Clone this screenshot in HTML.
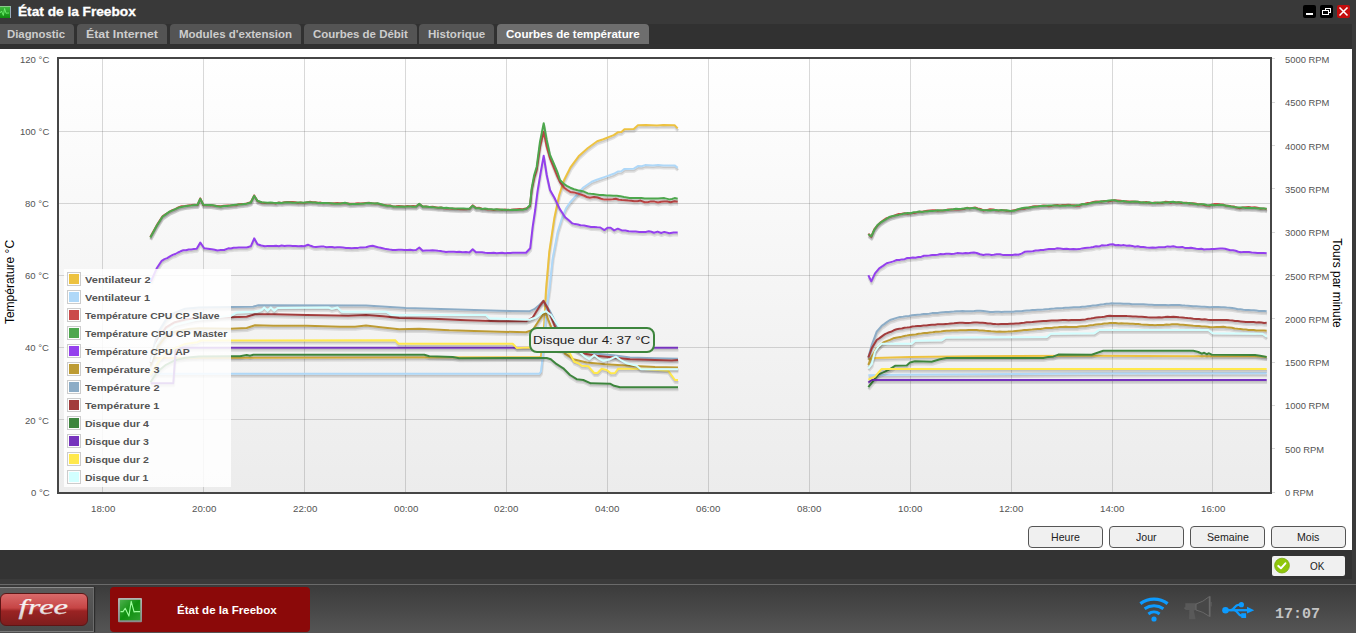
<!DOCTYPE html>
<html lang="fr">
<head>
<meta charset="utf-8">
<title>État de la Freebox</title>
<style>
html,body{margin:0;padding:0;}
body{width:1356px;height:633px;overflow:hidden;position:relative;background:#3a3a3a;font-family:"Liberation Sans",sans-serif;}
div{box-sizing:border-box;}
#titlebar{position:absolute;left:0;top:0;width:1356px;height:24px;background:#393939;}
#ticon{position:absolute;left:0;top:6px;width:11px;height:12px;background:linear-gradient(#3fb83f,#0f8a0f);border-right:1px solid #9ab;border-top:1px solid #8c8;}
.wb{position:absolute;top:5px;width:13px;height:13px;border-radius:2px;background:#000;}
#tabbar{position:absolute;left:0;top:24px;width:1352px;height:25px;background:#313131;}
.tab{position:absolute;top:0;height:20px;background:#545454;border-radius:4px 4px 0 0;color:#c8c8c8;font-weight:bold;font-size:12px;line-height:19px;text-align:center;white-space:nowrap;}
.tab.sel{background:#6e6e6e;color:#fff;}
#content{position:absolute;left:0;top:49px;width:1352px;height:501px;background:#fff;}
#below{position:absolute;left:0;top:550px;width:1352px;height:29px;background:#333;}
#plotbg{position:absolute;left:58px;top:58px;width:1213px;height:435px;background:linear-gradient(#fff,#ececec);}
#chart{position:absolute;left:0;top:0;}
#legend{position:absolute;left:64px;top:269px;width:167px;height:218px;background:rgba(255,255,255,0.85);}
.sw{position:absolute;left:3px;width:14px;height:14px;border:1px solid #ccc;padding:1px;background:transparent;}
.sw i{display:block;width:10px;height:10px;}
#tip{position:absolute;left:529px;top:327px;width:126px;height:26px;border:2px solid #3d853d;border-radius:8px;background:#eee;color:#222;font-size:12.5px;line-height:22px;text-align:center;white-space:nowrap;}
.ft{position:absolute;line-height:1;white-space:nowrap;transform-origin:0 0;display:block;}
#t_title{-webkit-text-stroke:0.3px #fff;}
.ax{position:absolute;font-size:12px;line-height:14px;color:#000;white-space:nowrap;}
.btn{position:absolute;top:526px;width:75px;height:22px;border:1px solid #555;border-radius:4px;background:#f0f0f0;color:#222;font-size:12px;line-height:20px;text-align:center;}
#ok{position:absolute;left:1272px;top:556px;width:73px;height:20px;background:#f0f0f0;border-radius:2px;color:#222;font-size:12px;line-height:20px;}
#taskbar{position:absolute;left:0;top:584px;width:1356px;height:49px;background:linear-gradient(#3b3b3b,#555);border-top:1px solid #6a6a6a;}
#freeframe{position:absolute;left:-2px;top:587px;width:96px;height:45px;background:linear-gradient(#5a5a5a,#4a4a4a);border:1px solid #6c6c6c;border-top-color:#8c8c8c;border-bottom-color:#7a7a7a;box-shadow:1px 0 1px #2c2c2c;}
#free{position:absolute;left:0px;top:593px;width:88px;height:33px;border-radius:6px;background:linear-gradient(#d96a6a 0%,#c64545 45%,#9a2323 55%,#7e1d1d 100%);border:1px solid #5e1515;}
#task{position:absolute;left:110px;top:587px;width:200px;height:45px;background:#8b0909;border-radius:4px;}
#clock{position:absolute;left:1275px;top:606px;font-family:"Liberation Mono",monospace;font-weight:bold;font-size:15px;line-height:18px;color:#c4c4c4;white-space:nowrap;}
</style>
</head>
<body>
<div id="titlebar"></div>
<div id="ticon"></div>
<svg style="position:absolute;left:0;top:6px" width="11" height="12" viewBox="0 0 11 12"><path d="M0 7 L1.5 5 L3.3 9.5 L4.6 2.5 L6 7.2 L9 7" fill="none" stroke="#7dff7d" stroke-width="0.9" opacity="0.8"/></svg>
<div class="wb" style="left:1303px"></div>
<div class="wb" style="left:1320px"></div>
<div class="wb" style="left:1337px;background:#c40d0d"></div>
<svg style="position:absolute;left:1303px;top:5px" width="48" height="13" viewBox="0 0 48 13">
<rect x="3" y="8" width="7" height="2" fill="#fff"/>
<rect x="22.5" y="3.5" width="5" height="4" fill="none" stroke="#fff" stroke-width="1"/>
<rect x="19.5" y="5.5" width="6" height="4" fill="#000" stroke="#fff" stroke-width="1"/>
<path d="M36.5 2.5 L44.5 10.5 M44.5 2.5 L36.5 10.5" stroke="#fff" stroke-width="1.6"/>
</svg>

<div id="tabbar">
<div class="tab" style="left:-3px;width:77px"></div>
<div class="tab" style="left:77px;width:90px"></div>
<div class="tab" style="left:170px;width:131px"></div>
<div class="tab" style="left:304px;width:113px"></div>
<div class="tab" style="left:419px;width:75px"></div>
<div class="tab sel" style="left:497px;width:152px"></div>
</div>

<div id="content"></div>
<div id="below"></div>
<div id="plotbg"></div>

<svg id="chart" width="1356" height="633" viewBox="0 0 1356 633" fill="none" stroke-linejoin="round" stroke-linecap="butt">
<rect x="102" y="59" width="1" height="433" fill="#545454" fill-opacity="0.22"/>
<rect x="203" y="59" width="1" height="433" fill="#545454" fill-opacity="0.22"/>
<rect x="304" y="59" width="1" height="433" fill="#545454" fill-opacity="0.22"/>
<rect x="405" y="59" width="1" height="433" fill="#545454" fill-opacity="0.22"/>
<rect x="506" y="59" width="1" height="433" fill="#545454" fill-opacity="0.22"/>
<rect x="607" y="59" width="1" height="433" fill="#545454" fill-opacity="0.22"/>
<rect x="708" y="59" width="1" height="433" fill="#545454" fill-opacity="0.22"/>
<rect x="809" y="59" width="1" height="433" fill="#545454" fill-opacity="0.22"/>
<rect x="910" y="59" width="1" height="433" fill="#545454" fill-opacity="0.22"/>
<rect x="1011" y="59" width="1" height="433" fill="#545454" fill-opacity="0.22"/>
<rect x="1112" y="59" width="1" height="433" fill="#545454" fill-opacity="0.22"/>
<rect x="1212" y="59" width="1" height="433" fill="#545454" fill-opacity="0.22"/>
<rect x="59" y="419" width="1211" height="1" fill="#545454" fill-opacity="0.22"/>
<rect x="59" y="347" width="1211" height="1" fill="#545454" fill-opacity="0.22"/>
<rect x="59" y="275" width="1211" height="1" fill="#545454" fill-opacity="0.22"/>
<rect x="59" y="203" width="1211" height="1" fill="#545454" fill-opacity="0.22"/>
<rect x="59" y="131" width="1211" height="1" fill="#545454" fill-opacity="0.22"/>
<rect x="1272" y="492" width="3" height="1" fill="#545454" fill-opacity="0.22"/>
<rect x="1272" y="448" width="3" height="1" fill="#545454" fill-opacity="0.22"/>
<rect x="1272" y="405" width="3" height="1" fill="#545454" fill-opacity="0.22"/>
<rect x="1272" y="362" width="3" height="1" fill="#545454" fill-opacity="0.22"/>
<rect x="1272" y="318" width="3" height="1" fill="#545454" fill-opacity="0.22"/>
<rect x="1272" y="275" width="3" height="1" fill="#545454" fill-opacity="0.22"/>
<rect x="1272" y="232" width="3" height="1" fill="#545454" fill-opacity="0.22"/>
<rect x="1272" y="188" width="3" height="1" fill="#545454" fill-opacity="0.22"/>
<rect x="1272" y="145" width="3" height="1" fill="#545454" fill-opacity="0.22"/>
<rect x="1272" y="102" width="3" height="1" fill="#545454" fill-opacity="0.22"/>
<rect x="1272" y="58" width="3" height="1" fill="#545454" fill-opacity="0.22"/>
<rect x="58" y="58" width="1213" height="435" fill="none" stroke="#464646" stroke-width="2" shape-rendering="crispEdges"/>
<g><polyline points="151.2,360.5 539.7,359.7 541.4,359.2 544.7,325.8 546.4,292.5 549.7,254.2 554.7,220.8 559.6,197.5 564.5,182.5 570.7,170.2 579.0,158.8 588.3,150.5 597.6,143.8 603.8,141.8 614.1,137.6 618.2,134.8 621.8,134.5 624.9,131.7 634.2,131.4 638.3,127.8 646.1,127.5 657.4,128.1 663.6,127.6 675.0,127.8 678.1,130.9" stroke="#000" stroke-opacity="0.1" stroke-width="3"/><polyline points="868.7,362.0 875.4,360.5 910.4,359.5 977.1,358.8 1086.4,358.3 1200.4,358.7 1255.4,358.8 1267.1,359.5" stroke="#000" stroke-opacity="0.1" stroke-width="3"/><polyline points="151.1,359.7 539.6,358.9 541.3,358.4 544.6,325.0 546.3,291.7 549.6,253.4 554.6,220.0 559.5,196.7 564.4,181.7 570.6,169.4 578.9,158.0 588.2,149.7 597.5,143.0 603.7,141.0 614.0,136.8 618.1,134.0 621.7,133.7 624.8,130.9 634.1,130.6 638.2,127.0 646.0,126.7 657.3,127.3 663.5,126.8 674.9,127.0 678.0,130.1" stroke="#000" stroke-opacity="0.1" stroke-width="1.5"/><polyline points="868.6,361.2 875.3,359.7 910.3,358.7 977.0,358.0 1086.3,357.5 1200.3,357.9 1255.3,358.0 1267.0,358.7" stroke="#000" stroke-opacity="0.1" stroke-width="1.5"/><polyline points="150.8,358.0 539.3,357.2 541.0,356.7 544.3,323.3 546.0,290.0 549.3,251.7 554.3,218.3 559.2,195.0 564.1,180.0 570.3,167.7 578.6,156.3 587.9,148.0 597.2,141.3 603.4,139.3 613.7,135.1 617.8,132.3 621.4,132.0 624.5,129.2 633.8,128.9 637.9,125.3 645.7,125.0 657.0,125.6 663.2,125.1 674.6,125.3 677.7,128.4" stroke="#edc240" stroke-width="2"/><polyline points="868.3,359.5 875.0,358.0 910.0,357.0 976.7,356.3 1086.0,355.8 1200.0,356.2 1255.0,356.3 1266.7,357.0" stroke="#edc240" stroke-width="2"/></g>
<g><polyline points="151.2,376.3 539.7,376.3 541.4,374.2 543.1,359.2 547.2,309.2 549.7,292.5 553.1,260.8 558.1,234.2 562.4,220.5 566.4,210.8 570.4,205.0 577.1,197.5 583.7,190.0 592.1,184.2 596.5,182.5 606.9,178.9 614.1,176.3 618.2,174.1 621.8,173.8 624.9,171.4 634.2,171.2 638.3,168.6 642.0,168.8 645.6,167.6 653.3,168.1 658.5,167.4 663.6,168.1 675.0,167.9 678.1,170.4" stroke="#000" stroke-opacity="0.1" stroke-width="3"/><polyline points="868.7,377.8 900.4,377.3 1086.4,376.0 1267.1,375.8" stroke="#000" stroke-opacity="0.1" stroke-width="3"/><polyline points="151.1,375.5 539.6,375.5 541.3,373.4 543.0,358.4 547.1,308.4 549.6,291.7 553.0,260.0 558.0,233.4 562.3,219.7 566.3,210.0 570.3,204.2 577.0,196.7 583.6,189.2 592.0,183.4 596.4,181.7 606.8,178.1 614.0,175.5 618.1,173.3 621.7,173.0 624.8,170.6 634.1,170.4 638.2,167.8 641.9,168.0 645.5,166.8 653.2,167.3 658.4,166.6 663.5,167.3 674.9,167.1 678.0,169.6" stroke="#000" stroke-opacity="0.1" stroke-width="1.5"/><polyline points="868.6,377.0 900.3,376.5 1086.3,375.2 1267.0,375.0" stroke="#000" stroke-opacity="0.1" stroke-width="1.5"/><polyline points="150.8,373.8 539.3,373.8 541.0,371.7 542.7,356.7 546.8,306.7 549.3,290.0 552.7,258.3 557.7,231.7 562.0,218.0 566.0,208.3 570.0,202.5 576.7,195.0 583.3,187.5 591.7,181.7 596.1,180.0 606.5,176.4 613.7,173.8 617.8,171.6 621.4,171.3 624.5,168.9 633.8,168.7 637.9,166.1 641.6,166.3 645.2,165.1 652.9,165.6 658.1,164.9 663.2,165.6 674.6,165.4 677.7,167.9" stroke="#afd8f8" stroke-width="2"/><polyline points="868.3,375.3 900.0,374.8 1086.0,373.5 1266.7,373.3" stroke="#afd8f8" stroke-width="2"/></g>
<g><polyline points="150.7,239.6 153.9,233.7 157.1,227.9 160.0,223.3 162.9,218.8 166.3,216.5 169.6,214.5 172.7,212.6 175.7,211.5 178.7,209.9 182.1,208.8 185.4,208.6 188.7,207.9 191.8,207.6 194.9,207.2 197.9,207.5 200.7,200.9 203.7,207.5 207.1,207.7 210.4,207.4 213.7,208.1 217.5,208.4 221.2,208.8 224.4,208.1 227.5,207.9 230.6,207.9 233.7,207.8 236.4,207.7 239.1,206.7 241.8,206.4 244.4,206.4 247.1,205.9 251.2,204.6 254.6,197.9 257.9,203.6 262.1,205.0 265.0,205.5 267.9,205.3 270.8,205.3 273.7,205.6 276.5,205.8 279.3,204.8 282.1,205.4 284.9,204.7 287.6,204.4 290.4,204.6 293.1,204.4 295.8,204.8 298.4,205.4 301.1,205.1 303.7,205.6 307.1,205.0 310.4,204.3 313.1,204.7 315.8,204.7 318.4,205.2 321.1,205.1 323.7,205.8 326.5,205.4 329.3,205.5 332.1,205.9 334.9,205.7 337.6,205.6 340.4,205.8 345.4,205.6 350.4,206.3 353.1,206.2 355.8,205.9 358.4,205.6 361.1,205.9 363.8,205.7 366.4,205.4 369.4,205.3 372.3,205.8 375.2,205.9 378.1,206.1 381.4,207.0 384.7,207.4 387.7,207.9 390.6,207.9 393.5,208.8 396.4,208.8 399.3,208.4 402.1,208.7 405.0,209.0 407.9,208.4 410.7,208.8 413.6,208.3 416.4,208.8 419.7,206.6 423.1,208.8 426.5,209.1 429.8,209.3 433.1,209.3 435.9,209.6 438.7,210.2 441.4,210.0 444.2,210.6 447.0,210.8 449.7,211.1 452.6,211.2 455.4,211.2 458.3,211.6 461.2,211.7 464.0,211.4 466.9,211.6 469.7,211.6 473.1,207.9 476.4,210.4 479.4,210.3 482.4,211.2 485.4,211.5 488.4,212.1 491.4,212.0 494.2,212.3 497.0,211.9 499.8,212.1 502.6,212.4 505.3,211.9 508.1,212.5 511.1,212.3 514.1,211.9 517.1,211.7 520.1,211.5 523.1,211.8 527.1,210.8 530.4,208.5 532.1,192.5 534.6,180.5 537.1,172.5 540.4,149.5 544.1,134.2 547.1,149.2 550.4,160.8 553.8,169.1 557.1,177.5 560.4,184.6 564.5,190.2 567.6,192.5 570.7,194.4 574.2,194.9 577.6,195.9 581.0,197.0 584.1,198.0 587.2,199.5 590.3,200.3 594.5,199.5 598.0,199.9 601.4,201.1 604.8,202.1 607.7,201.9 610.5,202.0 613.4,201.7 616.2,201.3 619.3,202.2 622.3,202.6 625.4,202.6 628.5,203.0 631.6,203.3 634.7,203.7 637.8,203.7 640.9,203.1 645.1,204.7 648.2,204.7 651.3,203.9 654.9,204.1 658.5,205.0 661.6,204.2 664.7,204.0 667.8,204.1 670.9,204.7 675.0,203.7 678.1,204.2" stroke="#000" stroke-opacity="0.1" stroke-width="3"/><polyline points="868.7,236.2 871.7,239.2 874.6,232.0 877.9,227.9 880.8,225.0 883.7,222.8 887.1,220.7 890.4,219.6 893.4,218.6 896.3,217.4 899.2,216.5 902.1,216.2 905.1,215.8 908.1,216.1 911.1,215.7 914.1,215.4 917.1,214.9 919.7,214.2 922.4,214.3 925.0,213.7 927.6,213.3 930.2,212.9 932.8,212.7 935.4,212.8 938.0,213.2 940.7,213.0 943.3,212.8 945.9,212.7 948.5,211.9 951.1,211.9 953.7,212.1 956.4,211.9 959.2,211.8 961.9,211.7 964.6,211.5 967.3,210.3 970.0,210.6 972.7,210.4 975.4,210.0 978.2,210.9 981.0,211.5 983.7,212.9 987.1,212.5 990.4,211.8 993.7,212.0 996.4,212.7 999.1,212.9 1001.8,212.7 1004.4,212.7 1007.1,213.2 1010.9,213.5 1014.6,212.8 1018.4,212.0 1022.1,211.2 1024.8,211.1 1027.5,210.6 1030.1,209.7 1032.8,209.1 1035.4,208.7 1038.2,208.7 1041.0,208.5 1043.8,208.1 1046.6,208.2 1049.3,208.8 1052.1,208.4 1054.9,207.6 1057.7,207.4 1060.4,208.0 1063.2,207.4 1066.0,207.5 1068.7,207.3 1071.5,207.5 1074.3,207.7 1077.1,208.2 1079.9,208.1 1082.7,206.6 1085.4,206.2 1088.2,205.3 1091.0,205.2 1093.7,204.5 1096.4,204.0 1099.0,203.9 1101.6,204.2 1104.2,203.5 1106.9,203.6 1109.5,203.8 1112.1,203.2 1115.1,202.8 1118.1,202.8 1121.1,203.1 1124.1,203.9 1127.1,203.7 1129.9,204.0 1132.7,203.8 1135.4,204.2 1138.2,204.2 1141.0,204.8 1143.7,205.1 1146.7,204.5 1149.6,205.2 1152.5,205.5 1155.4,205.0 1158.0,205.4 1160.7,205.1 1163.3,205.3 1165.9,204.2 1168.5,204.4 1171.1,205.2 1173.7,204.6 1176.4,205.0 1179.1,204.7 1181.8,205.5 1184.5,205.3 1187.1,205.3 1190.0,206.0 1192.8,205.8 1195.7,206.0 1198.6,206.7 1201.4,206.7 1204.3,207.3 1207.1,207.9 1209.8,208.2 1212.5,207.2 1215.1,206.6 1217.8,206.4 1220.4,206.7 1223.2,206.8 1226.0,208.1 1228.8,208.2 1231.6,208.7 1234.3,209.0 1237.1,210.1 1240.1,210.6 1243.1,209.9 1246.1,209.6 1249.1,209.5 1252.1,210.0 1255.1,209.8 1258.1,210.2 1261.1,211.2 1264.1,210.9 1267.1,211.7" stroke="#000" stroke-opacity="0.1" stroke-width="3"/><polyline points="150.6,238.8 153.8,233.0 157.0,227.1 159.9,222.6 162.8,218.0 166.2,215.7 169.5,213.7 172.5,211.9 175.6,210.8 178.6,209.1 181.9,208.1 185.3,207.8 188.6,207.1 191.7,206.9 194.7,206.5 197.8,206.7 200.6,200.1 203.6,206.7 206.9,206.9 210.3,206.7 213.6,207.3 217.4,207.6 221.1,208.0 224.2,207.4 227.4,207.2 230.5,207.2 233.6,207.0 236.3,206.9 239.0,205.9 241.6,205.6 244.3,205.6 247.0,205.1 251.1,203.8 254.5,197.1 257.8,202.8 262.0,204.2 264.9,204.8 267.8,204.6 270.7,204.6 273.6,204.8 276.4,205.1 279.2,204.1 281.9,204.6 284.7,204.0 287.5,203.7 290.3,203.8 293.0,203.7 295.6,204.0 298.3,204.7 300.9,204.3 303.6,204.8 306.9,204.2 310.3,203.5 313.0,203.9 315.6,204.0 318.3,204.5 320.9,204.3 323.6,205.0 326.4,204.6 329.2,204.8 331.9,205.2 334.7,205.0 337.5,204.9 340.3,205.0 345.3,204.8 350.3,205.5 353.0,205.4 355.6,205.2 358.3,204.9 361.0,205.2 363.6,204.9 366.3,204.6 369.2,204.6 372.2,205.0 375.1,205.2 378.0,205.3 381.3,206.3 384.6,206.6 387.5,207.2 390.4,207.1 393.4,208.1 396.3,208.0 399.2,207.7 402.0,207.9 404.9,208.3 407.7,207.7 410.6,208.0 413.4,207.6 416.3,208.0 419.6,205.8 423.0,208.0 426.3,208.3 429.7,208.6 433.0,208.5 435.8,208.9 438.5,209.5 441.3,209.3 444.1,209.9 446.8,210.1 449.6,210.3 452.5,210.5 455.3,210.4 458.2,210.8 461.0,211.0 463.9,210.7 466.7,210.9 469.6,210.8 473.0,207.1 476.3,209.6 479.3,209.5 482.3,210.4 485.3,210.7 488.3,211.3 491.3,211.2 494.1,211.6 496.9,211.2 499.7,211.4 502.4,211.7 505.2,211.2 508.0,211.7 511.0,211.5 514.0,211.1 517.0,211.0 520.0,210.8 523.0,211.0 527.0,210.0 530.3,207.7 532.0,191.7 534.5,179.7 537.0,171.7 540.3,148.7 544.0,133.4 547.0,148.4 550.3,160.0 553.6,168.4 557.0,176.7 560.3,183.8 564.4,189.4 567.5,191.8 570.6,193.6 574.0,194.2 577.5,195.1 580.9,196.2 584.0,197.2 587.1,198.8 590.2,199.5 594.4,198.7 597.8,199.2 601.3,200.4 604.7,201.3 607.5,201.2 610.4,201.3 613.2,201.0 616.1,200.5 619.1,201.5 622.2,201.8 625.3,201.9 628.4,202.3 631.5,202.5 634.6,202.9 637.7,203.0 640.8,202.3 645.0,203.9 648.1,203.9 651.2,203.1 654.8,203.4 658.4,204.2 661.5,203.4 664.6,203.2 667.7,203.3 670.8,203.9 674.9,202.9 678.0,203.4" stroke="#000" stroke-opacity="0.1" stroke-width="1.5"/><polyline points="868.6,235.4 871.6,238.4 874.5,231.2 877.8,227.1 880.7,224.3 883.6,222.0 886.9,219.9 890.3,218.8 893.2,217.8 896.1,216.7 899.1,215.7 902.0,215.4 905.0,215.0 908.0,215.4 911.0,215.0 914.0,214.7 917.0,214.1 919.6,213.5 922.2,213.6 924.8,213.0 927.5,212.5 930.1,212.1 932.7,212.0 935.3,212.0 937.9,212.4 940.5,212.2 943.1,212.1 945.8,212.0 948.4,211.2 951.0,211.2 953.6,211.3 956.3,211.2 959.0,211.1 961.7,211.0 964.4,210.7 967.2,209.5 969.9,209.9 972.6,209.7 975.3,209.2 978.1,210.2 980.8,210.8 983.6,212.1 986.9,211.8 990.3,211.0 993.6,211.2 996.3,212.0 999.0,212.1 1001.6,212.0 1004.3,211.9 1007.0,212.4 1010.8,212.7 1014.5,212.0 1018.2,211.3 1022.0,210.4 1024.7,210.4 1027.3,209.8 1030.0,208.9 1032.6,208.3 1035.3,207.9 1038.1,208.0 1040.9,207.7 1043.6,207.4 1046.4,207.5 1049.2,208.0 1052.0,207.6 1054.8,206.9 1057.5,206.7 1060.3,207.2 1063.1,206.6 1065.8,206.7 1068.6,206.5 1071.4,206.8 1074.2,206.9 1077.0,207.4 1079.8,207.4 1082.5,205.8 1085.3,205.5 1088.1,204.6 1090.8,204.5 1093.6,203.7 1096.2,203.3 1098.9,203.2 1101.5,203.5 1104.1,202.8 1106.7,202.9 1109.4,203.1 1112.0,202.4 1115.0,202.0 1118.0,202.1 1121.0,202.4 1124.0,203.1 1127.0,202.9 1129.8,203.3 1132.5,203.1 1135.3,203.4 1138.1,203.5 1140.8,204.0 1143.6,204.3 1146.5,203.7 1149.5,204.5 1152.4,204.7 1155.3,204.2 1157.9,204.7 1160.5,204.4 1163.1,204.6 1165.8,203.4 1168.4,203.7 1171.0,204.4 1173.6,203.8 1176.3,204.3 1179.0,204.0 1181.6,204.8 1184.3,204.5 1187.0,204.5 1189.9,205.3 1192.7,205.0 1195.6,205.3 1198.4,205.9 1201.3,205.9 1204.1,206.6 1207.0,207.1 1209.7,207.4 1212.3,206.4 1215.0,205.8 1217.6,205.6 1220.3,205.9 1223.1,206.1 1225.9,207.4 1228.6,207.5 1231.4,207.9 1234.2,208.3 1237.0,209.3 1240.0,209.9 1243.0,209.2 1246.0,208.9 1249.0,208.7 1252.0,209.2 1255.0,209.0 1258.0,209.5 1261.0,210.5 1264.0,210.2 1267.0,210.9" stroke="#000" stroke-opacity="0.1" stroke-width="1.5"/><polyline points="150.3,237.1 153.5,231.2 156.7,225.4 159.6,220.8 162.5,216.3 165.8,214.0 169.2,212.0 172.2,210.2 175.3,209.1 178.3,207.4 181.6,206.3 185.0,206.1 188.3,205.4 191.4,205.1 194.4,204.7 197.5,205.0 200.3,198.4 203.3,205.0 206.6,205.2 210.0,205.0 213.3,205.6 217.1,205.9 220.8,206.3 223.9,205.7 227.1,205.4 230.2,205.5 233.3,205.3 236.0,205.2 238.7,204.2 241.3,203.9 244.0,203.9 246.7,203.4 250.8,202.1 254.2,195.4 257.5,201.1 261.7,202.5 264.6,203.1 267.5,202.9 270.4,202.9 273.3,203.1 276.1,203.4 278.9,202.4 281.6,202.9 284.4,202.2 287.2,201.9 290.0,202.1 292.7,202.0 295.3,202.3 298.0,203.0 300.6,202.6 303.3,203.1 306.6,202.5 310.0,201.8 312.7,202.2 315.3,202.3 318.0,202.7 320.6,202.6 323.3,203.3 326.1,202.9 328.9,203.0 331.6,203.5 334.4,203.2 337.2,203.1 340.0,203.3 345.0,203.1 350.0,203.8 352.7,203.7 355.3,203.5 358.0,203.2 360.7,203.5 363.3,203.2 366.0,202.9 368.9,202.8 371.9,203.3 374.8,203.4 377.7,203.6 381.0,204.6 384.3,204.9 387.2,205.5 390.1,205.4 393.1,206.4 396.0,206.3 398.9,206.0 401.7,206.2 404.6,206.5 407.4,206.0 410.3,206.3 413.1,205.9 416.0,206.3 419.3,204.1 422.7,206.3 426.0,206.6 429.4,206.9 432.7,206.8 435.5,207.2 438.2,207.7 441.0,207.5 443.8,208.2 446.5,208.4 449.3,208.6 452.2,208.7 455.0,208.7 457.9,209.1 460.7,209.3 463.6,208.9 466.4,209.2 469.3,209.1 472.7,205.4 476.0,207.9 479.0,207.8 482.0,208.7 485.0,209.0 488.0,209.6 491.0,209.5 493.8,209.9 496.6,209.5 499.4,209.6 502.1,210.0 504.9,209.5 507.7,210.0 510.7,209.8 513.7,209.4 516.7,209.2 519.7,209.0 522.7,209.3 526.7,208.3 530.0,206.0 531.7,190.0 534.2,178.0 536.7,170.0 540.0,147.0 543.7,131.7 546.7,146.7 550.0,158.3 553.4,166.7 556.7,175.0 560.0,182.1 564.1,187.7 567.2,190.0 570.3,191.9 573.7,192.4 577.2,193.4 580.6,194.5 583.7,195.5 586.8,197.0 589.9,197.8 594.1,197.0 597.5,197.5 601.0,198.7 604.4,199.6 607.2,199.4 610.1,199.5 612.9,199.3 615.8,198.8 618.8,199.8 621.9,200.1 625.0,200.2 628.1,200.6 631.2,200.8 634.3,201.2 637.4,201.2 640.5,200.6 644.7,202.2 647.8,202.2 650.9,201.4 654.5,201.6 658.1,202.5 661.2,201.7 664.3,201.5 667.4,201.6 670.5,202.2 674.6,201.2 677.7,201.7" stroke="#cb4b4b" stroke-width="2"/><polyline points="868.3,233.7 871.3,236.7 874.2,229.5 877.5,225.4 880.4,222.5 883.3,220.3 886.6,218.2 890.0,217.1 892.9,216.1 895.9,215.0 898.8,214.0 901.7,213.7 904.7,213.3 907.7,213.7 910.7,213.3 913.7,213.0 916.7,212.4 919.3,211.8 921.9,211.8 924.5,211.2 927.2,210.8 929.8,210.4 932.4,210.3 935.0,210.3 937.6,210.7 940.2,210.5 942.8,210.4 945.5,210.3 948.1,209.4 950.7,209.5 953.3,209.6 956.0,209.5 958.7,209.4 961.4,209.2 964.1,209.0 966.9,207.8 969.6,208.2 972.3,208.0 975.0,207.5 977.8,208.5 980.5,209.0 983.3,210.4 986.6,210.1 990.0,209.3 993.3,209.5 996.0,210.3 998.7,210.4 1001.3,210.3 1004.0,210.2 1006.7,210.7 1010.5,211.0 1014.2,210.3 1018.0,209.6 1021.7,208.7 1024.4,208.7 1027.0,208.1 1029.7,207.2 1032.3,206.6 1035.0,206.2 1037.8,206.3 1040.6,206.0 1043.3,205.6 1046.1,205.8 1048.9,206.3 1051.7,205.9 1054.5,205.2 1057.2,205.0 1060.0,205.5 1062.8,204.9 1065.5,205.0 1068.3,204.8 1071.1,205.1 1073.9,205.2 1076.7,205.7 1079.5,205.7 1082.2,204.1 1085.0,203.7 1087.8,202.9 1090.5,202.8 1093.3,202.0 1095.9,201.5 1098.6,201.5 1101.2,201.7 1103.8,201.0 1106.4,201.1 1109.1,201.4 1111.7,200.7 1114.7,200.3 1117.7,200.4 1120.7,200.7 1123.7,201.4 1126.7,201.2 1129.5,201.6 1132.2,201.4 1135.0,201.7 1137.8,201.7 1140.5,202.3 1143.3,202.6 1146.2,202.0 1149.2,202.8 1152.1,203.0 1155.0,202.5 1157.6,203.0 1160.2,202.7 1162.8,202.9 1165.5,201.7 1168.1,202.0 1170.7,202.7 1173.3,202.1 1176.0,202.6 1178.7,202.3 1181.3,203.1 1184.0,202.8 1186.7,202.8 1189.6,203.6 1192.4,203.3 1195.3,203.5 1198.1,204.2 1201.0,204.2 1203.8,204.9 1206.7,205.4 1209.4,205.7 1212.0,204.7 1214.7,204.1 1217.3,203.9 1220.0,204.2 1222.8,204.4 1225.6,205.7 1228.3,205.7 1231.1,206.2 1233.9,206.5 1236.7,207.6 1239.7,208.2 1242.7,207.5 1245.7,207.2 1248.7,207.0 1251.7,207.5 1254.7,207.3 1257.7,207.8 1260.7,208.7 1263.7,208.4 1266.7,209.2" stroke="#cb4b4b" stroke-width="2"/></g>
<g><polyline points="150.7,240.0 153.9,234.1 157.1,228.3 160.0,223.7 162.9,219.2 166.3,216.8 169.6,214.2 172.7,213.1 175.7,211.6 178.7,210.3 182.1,209.5 185.4,208.6 188.7,208.3 191.8,208.0 194.9,207.5 197.9,207.2 200.7,201.3 203.7,207.2 207.1,207.5 210.4,207.5 213.7,207.8 217.5,208.6 221.2,209.2 224.4,208.6 227.5,208.5 230.6,208.0 233.7,207.5 236.4,207.2 239.1,207.0 241.8,206.8 244.4,206.3 247.1,206.3 251.2,205.0 254.6,198.3 257.9,203.3 262.1,204.7 265.0,204.8 267.9,205.1 270.8,205.0 273.7,205.3 276.5,205.4 279.3,205.3 282.1,205.3 284.9,205.0 287.6,204.8 290.4,205.0 293.1,205.2 295.8,205.3 298.4,205.1 301.1,205.0 303.7,205.3 307.1,204.8 310.4,204.7 313.1,204.9 315.8,204.9 318.4,205.4 321.1,205.4 323.7,205.5 326.5,205.4 329.3,205.8 332.1,205.7 334.9,206.2 337.6,206.3 340.4,206.2 345.4,205.3 350.4,206.7 353.1,206.5 355.8,206.4 358.4,206.3 361.1,206.2 363.8,206.2 366.4,205.8 369.4,205.5 372.3,205.7 375.2,205.8 378.1,205.8 381.4,206.6 384.7,207.8 387.7,208.2 390.6,208.2 393.5,209.0 396.4,209.2 399.3,209.2 402.1,208.9 405.0,209.3 407.9,209.0 410.7,209.0 413.6,209.2 416.4,209.2 419.7,206.3 423.1,209.2 426.5,209.1 429.8,209.3 433.1,209.7 435.9,210.1 438.7,210.1 441.4,209.9 444.2,210.6 447.0,210.3 449.7,210.8 452.6,210.7 455.4,211.1 458.3,211.0 461.2,210.9 464.0,211.0 466.9,211.1 469.7,211.3 473.1,208.3 476.4,210.8 479.4,210.7 482.4,211.4 485.4,211.0 488.4,211.4 491.4,211.7 494.2,211.9 497.0,211.8 499.8,212.2 502.6,211.8 505.3,212.4 508.1,212.2 511.1,212.4 514.1,212.3 517.1,212.4 520.1,212.1 523.1,212.2 527.1,211.2 530.4,207.5 532.1,190.8 534.6,177.5 537.1,169.2 540.4,144.2 544.1,125.8 547.1,142.5 550.4,157.5 553.7,165.0 557.9,175.0 560.4,182.5 564.5,186.6 567.6,188.6 570.7,190.2 574.4,191.6 578.0,192.8 583.1,193.7 588.3,195.9 591.1,196.2 593.8,196.6 596.5,197.0 600.0,197.4 603.5,197.6 606.9,198.0 610.4,197.8 613.8,198.3 617.2,198.3 620.8,198.7 624.4,199.5 627.2,199.8 630.0,200.4 632.7,200.6 635.8,200.4 638.9,200.4 642.0,200.5 645.1,200.9 648.2,200.9 651.7,200.8 655.1,200.8 658.5,201.1 661.6,200.8 664.7,200.6 669.8,201.9 672.4,201.5 675.0,200.6 678.1,201.3" stroke="#000" stroke-opacity="0.1" stroke-width="3"/><polyline points="868.7,236.7 871.7,238.8 874.6,232.5 877.9,227.5 880.8,225.1 883.7,223.3 887.1,221.2 890.4,219.2 893.4,218.4 896.3,218.0 899.2,217.4 902.1,216.7 905.1,215.8 908.1,215.3 911.1,215.6 914.1,214.7 917.1,214.5 919.7,214.0 922.4,214.6 925.0,213.9 927.6,214.1 930.2,213.6 932.8,213.6 935.4,213.3 938.0,212.7 940.7,212.9 943.3,212.9 945.9,212.4 948.5,212.3 951.1,212.0 953.7,211.7 956.4,211.1 959.2,211.6 961.9,211.3 964.6,210.9 967.3,210.5 970.0,211.1 972.7,210.6 975.4,210.5 978.2,211.3 981.0,212.1 983.7,212.5 987.1,212.7 990.4,212.8 993.7,212.5 996.4,212.4 999.1,212.9 1001.8,212.6 1004.4,213.1 1007.1,212.8 1010.9,213.4 1014.6,213.3 1018.4,211.6 1022.1,210.8 1024.8,210.1 1027.5,209.9 1030.1,210.2 1032.8,209.4 1035.4,209.2 1038.2,209.1 1041.0,208.6 1043.8,208.6 1046.6,208.3 1049.3,208.0 1052.1,208.0 1054.9,208.0 1057.7,208.0 1060.4,208.2 1063.2,208.0 1066.0,208.2 1068.7,207.8 1071.5,208.1 1074.3,208.2 1077.1,207.8 1079.9,207.4 1082.7,206.5 1085.4,206.7 1088.2,206.3 1091.0,205.8 1093.7,205.0 1096.4,204.7 1099.0,204.5 1101.6,203.8 1104.2,204.0 1106.9,203.5 1109.5,202.9 1112.1,202.8 1115.1,202.6 1118.1,203.6 1121.1,204.0 1124.1,203.5 1127.1,204.2 1129.9,204.5 1132.7,204.2 1135.4,204.1 1138.2,204.3 1141.0,204.8 1143.7,204.7 1146.7,205.2 1149.6,204.6 1152.5,205.4 1155.4,205.5 1158.0,204.9 1160.7,205.3 1163.3,204.8 1165.9,205.1 1168.5,205.0 1171.1,204.4 1173.7,204.2 1176.4,204.9 1179.1,204.6 1181.8,204.7 1184.5,205.5 1187.1,205.8 1190.0,205.6 1192.8,206.0 1195.7,206.4 1198.6,206.8 1201.4,206.7 1204.3,206.8 1207.1,207.5 1209.8,207.7 1212.5,207.2 1215.1,207.7 1217.8,207.6 1220.4,207.2 1223.2,207.5 1226.0,208.0 1228.8,208.4 1231.6,209.0 1234.3,209.3 1237.1,209.7 1240.1,209.9 1243.1,210.1 1246.1,210.5 1249.1,210.3 1252.1,210.5 1255.1,210.6 1258.1,211.0 1261.1,210.7 1264.1,210.9 1267.1,211.3" stroke="#000" stroke-opacity="0.1" stroke-width="3"/><polyline points="150.6,239.2 153.8,233.4 157.0,227.5 159.9,223.0 162.8,218.4 166.2,216.1 169.5,213.4 172.5,212.3 175.6,210.8 178.6,209.5 181.9,208.7 185.3,207.9 188.6,207.5 191.7,207.3 194.7,206.8 197.8,206.4 200.6,200.5 203.6,206.4 206.9,206.8 210.3,206.7 213.6,207.0 217.4,207.9 221.1,208.4 224.2,207.9 227.4,207.8 230.5,207.3 233.6,206.7 236.3,206.4 239.0,206.3 241.6,206.1 244.3,205.6 247.0,205.5 251.1,204.2 254.5,197.5 257.8,202.5 262.0,203.9 264.9,204.1 267.8,204.4 270.7,204.2 273.6,204.5 276.4,204.7 279.2,204.5 281.9,204.6 284.7,204.2 287.5,204.0 290.3,204.2 293.0,204.5 295.6,204.5 298.3,204.4 300.9,204.2 303.6,204.5 306.9,204.0 310.3,203.9 313.0,204.2 315.6,204.1 318.3,204.7 320.9,204.6 323.6,204.7 326.4,204.7 329.2,205.0 331.9,205.0 334.7,205.4 337.5,205.5 340.3,205.4 345.3,204.5 350.3,205.9 353.0,205.8 355.6,205.7 358.3,205.6 361.0,205.5 363.6,205.5 366.3,205.0 369.2,204.7 372.2,204.9 375.1,205.1 378.0,205.0 381.3,205.9 384.6,207.0 387.5,207.4 390.4,207.5 393.4,208.3 396.3,208.4 399.2,208.4 402.0,208.2 404.9,208.5 407.7,208.3 410.6,208.2 413.4,208.4 416.3,208.4 419.6,205.5 423.0,208.4 426.3,208.4 429.7,208.6 433.0,208.9 435.8,209.3 438.5,209.4 441.3,209.2 444.1,209.8 446.8,209.5 449.6,210.0 452.5,210.0 455.3,210.4 458.2,210.3 461.0,210.2 463.9,210.3 466.7,210.4 469.6,210.5 473.0,207.5 476.3,210.0 479.3,210.0 482.3,210.7 485.3,210.3 488.3,210.7 491.3,210.9 494.1,211.2 496.9,211.0 499.7,211.5 502.4,211.1 505.2,211.6 508.0,211.4 511.0,211.7 514.0,211.5 517.0,211.7 520.0,211.4 523.0,211.4 527.0,210.4 530.3,206.7 532.0,190.0 534.5,176.7 537.0,168.4 540.3,143.4 544.0,125.0 547.0,141.7 550.3,156.7 553.6,164.2 557.8,174.2 560.3,181.7 564.4,185.8 567.5,187.8 570.6,189.4 574.2,190.9 577.9,192.0 583.0,192.9 588.2,195.1 590.9,195.5 593.7,195.8 596.4,196.2 599.9,196.7 603.3,196.8 606.8,197.2 610.2,197.1 613.7,197.6 617.1,197.5 620.7,198.0 624.3,198.7 627.1,199.1 629.8,199.6 632.6,199.8 635.7,199.7 638.8,199.7 641.9,199.8 645.0,200.1 648.1,200.1 651.5,200.1 655.0,200.1 658.4,200.3 661.5,200.0 664.6,199.8 669.7,201.1 672.3,200.7 674.9,199.8 678.0,200.5" stroke="#000" stroke-opacity="0.1" stroke-width="1.5"/><polyline points="868.6,235.9 871.6,238.0 874.5,231.7 877.8,226.7 880.7,224.4 883.6,222.5 886.9,220.5 890.3,218.4 893.2,217.7 896.1,217.3 899.1,216.7 902.0,215.9 905.0,215.1 908.0,214.6 911.0,214.9 914.0,213.9 917.0,213.7 919.6,213.3 922.2,213.8 924.8,213.2 927.5,213.3 930.1,212.8 932.7,212.8 935.3,212.5 937.9,212.0 940.5,212.2 943.1,212.2 945.8,211.6 948.4,211.6 951.0,211.3 953.6,210.9 956.3,210.4 959.0,210.9 961.7,210.6 964.4,210.1 967.2,209.7 969.9,210.3 972.6,209.8 975.3,209.7 978.1,210.6 980.8,211.4 983.6,211.7 986.9,211.9 990.3,212.1 993.6,211.7 996.3,211.7 999.0,212.1 1001.6,211.9 1004.3,212.4 1007.0,212.0 1010.8,212.6 1014.5,212.5 1018.2,210.9 1022.0,210.0 1024.7,209.4 1027.3,209.1 1030.0,209.5 1032.6,208.7 1035.3,208.4 1038.1,208.3 1040.9,207.8 1043.6,207.8 1046.4,207.5 1049.2,207.3 1052.0,207.2 1054.8,207.3 1057.5,207.2 1060.3,207.5 1063.1,207.3 1065.8,207.4 1068.6,207.0 1071.4,207.3 1074.2,207.5 1077.0,207.0 1079.8,206.7 1082.5,205.8 1085.3,205.9 1088.1,205.6 1090.8,205.1 1093.6,204.2 1096.2,204.0 1098.9,203.8 1101.5,203.0 1104.1,203.3 1106.7,202.7 1109.4,202.1 1112.0,202.0 1115.0,201.9 1118.0,202.9 1121.0,203.3 1124.0,202.8 1127.0,203.4 1129.8,203.8 1132.5,203.5 1135.3,203.4 1138.1,203.6 1140.8,204.1 1143.6,203.9 1146.5,204.5 1149.5,203.9 1152.4,204.6 1155.3,204.7 1157.9,204.1 1160.5,204.5 1163.1,204.0 1165.8,204.3 1168.4,204.2 1171.0,203.6 1173.6,203.4 1176.3,204.2 1179.0,203.9 1181.6,204.0 1184.3,204.8 1187.0,205.0 1189.9,204.8 1192.7,205.2 1195.6,205.7 1198.4,206.1 1201.3,205.9 1204.1,206.1 1207.0,206.7 1209.7,207.0 1212.3,206.4 1215.0,207.0 1217.6,206.8 1220.3,206.4 1223.1,206.7 1225.9,207.2 1228.6,207.7 1231.4,208.2 1234.2,208.6 1237.0,208.9 1240.0,209.1 1243.0,209.3 1246.0,209.8 1249.0,209.6 1252.0,209.7 1255.0,209.8 1258.0,210.2 1261.0,210.0 1264.0,210.2 1267.0,210.5" stroke="#000" stroke-opacity="0.1" stroke-width="1.5"/><polyline points="150.3,237.5 153.5,231.7 156.7,225.8 159.6,221.2 162.5,216.7 165.8,214.4 169.2,211.7 172.2,210.6 175.3,209.1 178.3,207.8 181.6,207.0 185.0,206.2 188.3,205.8 191.4,205.5 194.4,205.0 197.5,204.7 200.3,198.8 203.3,204.7 206.6,205.1 210.0,205.0 213.3,205.3 217.1,206.2 220.8,206.7 223.9,206.1 227.1,206.0 230.2,205.6 233.3,205.0 236.0,204.7 238.7,204.5 241.3,204.4 244.0,203.9 246.7,203.8 250.8,202.5 254.2,195.8 257.5,200.8 261.7,202.2 264.6,202.4 267.5,202.7 270.4,202.5 273.3,202.8 276.1,202.9 278.9,202.8 281.6,202.9 284.4,202.5 287.2,202.3 290.0,202.5 292.7,202.7 295.3,202.8 298.0,202.6 300.6,202.5 303.3,202.8 306.6,202.3 310.0,202.2 312.7,202.4 315.3,202.4 318.0,203.0 320.6,202.9 323.3,203.0 326.1,202.9 328.9,203.3 331.6,203.3 334.4,203.7 337.2,203.8 340.0,203.7 345.0,202.8 350.0,204.2 352.7,204.1 355.3,204.0 358.0,203.9 360.7,203.8 363.3,203.7 366.0,203.3 368.9,203.0 371.9,203.2 374.8,203.4 377.7,203.3 381.0,204.2 384.3,205.3 387.2,205.7 390.1,205.8 393.1,206.6 396.0,206.7 398.9,206.7 401.7,206.5 404.6,206.8 407.4,206.6 410.3,206.5 413.1,206.7 416.0,206.7 419.3,203.8 422.7,206.7 426.0,206.6 429.4,206.9 432.7,207.2 435.5,207.6 438.2,207.7 441.0,207.5 443.8,208.1 446.5,207.8 449.3,208.3 452.2,208.3 455.0,208.7 457.9,208.6 460.7,208.5 463.6,208.6 466.4,208.7 469.3,208.8 472.7,205.8 476.0,208.3 479.0,208.3 482.0,209.0 485.0,208.6 488.0,209.0 491.0,209.2 493.8,209.4 496.6,209.3 499.4,209.7 502.1,209.4 504.9,209.9 507.7,209.7 510.7,209.9 513.7,209.8 516.7,209.9 519.7,209.7 522.7,209.7 526.7,208.7 530.0,205.0 531.7,188.3 534.2,175.0 536.7,166.7 540.0,141.7 543.7,123.3 546.7,140.0 550.0,155.0 553.3,162.5 557.5,172.5 560.0,180.0 564.1,184.1 567.2,186.1 570.3,187.7 574.0,189.2 577.6,190.3 582.7,191.2 587.9,193.4 590.6,193.8 593.4,194.1 596.1,194.5 599.6,195.0 603.0,195.1 606.5,195.5 609.9,195.4 613.4,195.8 616.8,195.8 620.4,196.3 624.0,197.0 626.8,197.4 629.5,197.9 632.3,198.1 635.4,198.0 638.5,197.9 641.6,198.1 644.7,198.4 647.8,198.4 651.2,198.4 654.7,198.4 658.1,198.6 661.2,198.3 664.3,198.1 669.4,199.4 672.0,199.0 674.6,198.1 677.7,198.8" stroke="#4da74d" stroke-width="2"/><polyline points="868.3,234.2 871.3,236.3 874.2,230.0 877.5,225.0 880.4,222.7 883.3,220.8 886.6,218.8 890.0,216.7 892.9,216.0 895.9,215.5 898.8,214.9 901.7,214.2 904.7,213.4 907.7,212.9 910.7,213.2 913.7,212.2 916.7,212.0 919.3,211.6 921.9,212.1 924.5,211.5 927.2,211.6 929.8,211.1 932.4,211.1 935.0,210.8 937.6,210.3 940.2,210.5 942.8,210.4 945.5,209.9 948.1,209.9 950.7,209.6 953.3,209.2 956.0,208.7 958.7,209.1 961.4,208.8 964.1,208.4 966.9,208.0 969.6,208.6 972.3,208.1 975.0,208.0 977.8,208.9 980.5,209.7 983.3,210.0 986.6,210.2 990.0,210.4 993.3,210.0 996.0,210.0 998.7,210.4 1001.3,210.1 1004.0,210.6 1006.7,210.3 1010.5,210.9 1014.2,210.8 1018.0,209.2 1021.7,208.3 1024.4,207.7 1027.0,207.4 1029.7,207.8 1032.3,207.0 1035.0,206.7 1037.8,206.6 1040.6,206.1 1043.3,206.1 1046.1,205.8 1048.9,205.6 1051.7,205.5 1054.5,205.5 1057.2,205.5 1060.0,205.8 1062.8,205.5 1065.5,205.7 1068.3,205.3 1071.1,205.6 1073.9,205.7 1076.7,205.3 1079.5,205.0 1082.2,204.1 1085.0,204.2 1087.8,203.9 1090.5,203.3 1093.3,202.5 1095.9,202.2 1098.6,202.1 1101.2,201.3 1103.8,201.5 1106.4,201.0 1109.1,200.4 1111.7,200.3 1114.7,200.2 1117.7,201.2 1120.7,201.6 1123.7,201.0 1126.7,201.7 1129.5,202.1 1132.2,201.8 1135.0,201.6 1137.8,201.8 1140.5,202.4 1143.3,202.2 1146.2,202.7 1149.2,202.2 1152.1,202.9 1155.0,203.0 1157.6,202.4 1160.2,202.8 1162.8,202.3 1165.5,202.6 1168.1,202.5 1170.7,201.9 1173.3,201.7 1176.0,202.5 1178.7,202.2 1181.3,202.3 1184.0,203.1 1186.7,203.3 1189.6,203.1 1192.4,203.5 1195.3,203.9 1198.1,204.4 1201.0,204.2 1203.8,204.3 1206.7,205.0 1209.4,205.3 1212.0,204.7 1214.7,205.2 1217.3,205.1 1220.0,204.7 1222.8,205.0 1225.6,205.5 1228.3,206.0 1231.1,206.5 1233.9,206.9 1236.7,207.2 1239.7,207.4 1242.7,207.6 1245.7,208.1 1248.7,207.8 1251.7,208.0 1254.7,208.1 1257.7,208.5 1260.7,208.2 1263.7,208.5 1266.7,208.8" stroke="#4da74d" stroke-width="2"/></g>
<g><polyline points="151.2,284.2 154.2,277.5 157.1,270.8 162.1,263.3 164.9,261.6 167.7,260.5 170.4,258.8 173.1,257.3 175.8,256.5 178.4,254.9 181.1,253.8 183.7,252.8 186.4,252.8 189.1,252.0 191.8,251.9 194.4,251.5 197.1,251.3 200.7,245.0 204.6,250.8 208.4,251.2 212.1,251.7 215.0,252.3 217.9,253.0 221.3,252.5 224.6,252.5 228.7,250.8 231.4,250.8 234.0,250.3 236.6,250.3 239.2,250.0 241.9,250.0 244.5,250.0 247.1,250.0 251.2,248.8 254.6,240.8 257.9,246.7 261.7,248.0 265.4,248.8 268.2,248.6 271.0,248.3 273.7,248.5 276.5,248.3 279.3,248.7 282.1,248.1 284.9,248.4 287.6,248.2 290.4,248.3 293.3,248.4 296.1,248.3 298.9,248.6 301.8,248.6 304.6,248.7 308.4,247.2 311.1,248.2 313.7,249.2 316.4,249.5 319.1,249.3 321.7,249.1 324.4,249.1 327.1,249.7 329.8,249.5 332.4,249.3 335.1,249.8 337.8,249.7 340.4,249.7 343.4,250.1 346.3,250.4 349.2,250.4 352.1,250.8 355.0,250.5 357.9,250.5 360.7,249.9 363.6,250.0 366.4,249.7 369.8,248.7 373.1,248.3 376.5,249.2 379.8,250.0 383.1,250.8 386.5,251.6 389.8,252.1 393.1,252.5 396.0,252.5 399.0,252.3 401.9,252.3 404.8,252.5 407.7,252.5 410.6,252.2 413.5,252.7 416.4,252.5 419.7,250.0 423.1,253.3 426.5,253.1 429.8,253.0 433.1,252.8 435.8,252.9 438.4,253.3 441.1,253.5 443.8,254.0 446.4,254.5 449.1,254.3 451.8,254.3 454.4,254.2 457.1,254.4 459.7,254.2 463.1,254.7 466.4,254.5 469.7,255.0 473.1,251.7 476.4,254.7 479.4,254.8 482.4,254.8 485.4,255.2 488.4,255.6 491.4,255.5 494.2,255.3 497.0,255.6 499.8,255.3 502.6,255.2 505.3,255.6 508.1,255.5 510.7,255.3 513.4,255.2 516.0,255.3 518.6,255.1 521.2,255.2 523.8,255.2 526.4,255.2 530.6,250.8 533.1,229.2 535.6,212.5 537.9,194.2 541.2,174.2 544.1,158.3 547.1,177.5 550.4,192.5 554.7,200.0 557.6,205.9 560.4,211.9 563.0,215.8 565.6,219.7 569.2,222.7 572.8,225.9 575.6,226.5 578.3,226.9 581.0,227.7 584.5,228.0 588.0,228.6 591.4,229.5 594.5,229.4 597.6,229.8 600.7,230.0 604.8,232.6 607.9,230.2 611.0,230.2 614.6,232.9 618.2,231.2 622.3,232.9 625.8,233.1 629.3,233.7 632.7,233.9 636.2,234.0 639.6,234.3 643.0,234.4 646.1,234.3 649.2,233.8 651.8,234.2 654.4,235.2 658.0,234.1 661.6,235.5 664.7,234.4 669.8,235.7 674.0,234.9 678.1,234.9" stroke="#000" stroke-opacity="0.1" stroke-width="3"/><polyline points="868.7,277.8 871.7,283.8 875.4,275.8 879.6,270.8 883.4,268.4 887.1,265.8 890.5,264.9 893.8,263.8 897.1,262.5 899.8,262.5 902.4,261.9 905.1,261.6 907.8,260.4 910.4,260.5 913.2,260.1 916.0,260.1 918.8,259.5 921.6,259.4 924.3,258.3 927.1,258.3 929.9,258.0 932.7,257.5 935.4,257.5 938.2,257.3 941.0,256.5 943.7,256.7 946.5,256.3 949.3,256.2 952.1,256.6 954.9,256.3 957.6,255.6 960.4,255.8 963.2,256.0 966.0,255.3 968.8,255.7 971.6,255.2 974.3,255.1 977.1,255.5 980.4,256.8 983.7,257.5 986.4,257.0 989.1,256.9 991.8,257.4 994.4,257.2 997.1,256.7 1000.5,256.7 1003.8,257.6 1007.1,257.5 1010.0,257.4 1012.9,257.5 1015.8,257.0 1018.7,257.2 1022.1,256.1 1025.4,254.2 1028.0,254.1 1030.7,254.1 1033.3,253.8 1035.9,253.0 1038.5,252.8 1041.1,252.4 1043.7,252.5 1046.5,251.9 1049.3,251.6 1052.1,251.5 1054.9,251.6 1057.6,250.8 1060.4,251.0 1063.8,251.4 1067.1,251.3 1070.4,251.7 1073.8,251.5 1077.1,251.7 1079.9,251.6 1082.7,250.9 1085.4,250.4 1088.2,250.2 1091.0,250.0 1093.7,249.5 1096.5,248.6 1099.3,249.1 1102.1,247.8 1104.9,248.0 1107.6,247.7 1110.4,247.0 1113.2,246.7 1116.0,247.7 1118.8,247.5 1121.6,247.9 1124.3,247.6 1127.1,248.3 1129.9,248.1 1132.7,248.4 1135.4,249.3 1138.2,248.8 1141.0,249.5 1143.7,249.5 1146.9,250.0 1150.0,250.2 1153.1,249.8 1156.2,250.2 1159.1,249.8 1162.1,249.7 1165.0,249.7 1167.9,248.9 1170.8,249.2 1173.7,248.8 1176.7,249.4 1179.7,249.8 1182.7,249.4 1185.7,250.5 1188.7,250.5 1191.4,250.3 1194.0,250.7 1196.6,251.1 1199.2,251.6 1201.9,251.2 1204.5,252.0 1207.1,251.8 1209.7,251.7 1212.4,251.4 1215.0,251.3 1217.6,251.1 1220.2,251.0 1222.8,250.9 1225.4,251.2 1228.1,251.9 1230.8,252.8 1233.4,252.7 1236.1,253.2 1238.7,254.2 1241.4,254.8 1244.1,254.5 1246.8,254.6 1249.5,254.6 1252.1,255.0 1255.1,255.2 1258.1,255.6 1261.1,255.4 1264.1,255.5 1267.1,255.8" stroke="#000" stroke-opacity="0.1" stroke-width="3"/><polyline points="151.1,283.4 154.1,276.7 157.0,270.0 162.0,262.5 164.8,260.9 167.5,259.8 170.3,258.0 173.0,256.6 175.6,255.7 178.3,254.2 180.9,253.1 183.6,252.0 186.3,252.0 189.0,251.2 191.6,251.2 194.3,250.8 197.0,250.5 200.6,244.2 204.5,250.0 208.2,250.4 212.0,250.9 214.9,251.6 217.8,252.2 221.2,251.8 224.5,251.7 228.6,250.0 231.2,250.1 233.9,249.5 236.5,249.5 239.1,249.3 241.7,249.3 244.4,249.3 247.0,249.2 251.1,248.0 254.5,240.0 257.8,245.9 261.6,247.2 265.3,248.0 268.1,247.8 270.8,247.6 273.6,247.7 276.4,247.5 279.2,247.9 281.9,247.4 284.7,247.7 287.5,247.5 290.3,247.5 293.1,247.7 296.0,247.6 298.8,247.9 301.7,247.8 304.5,247.9 308.3,246.4 310.9,247.5 313.6,248.4 316.3,248.7 318.9,248.6 321.6,248.4 324.3,248.4 326.9,248.9 329.6,248.7 332.3,248.6 335.0,249.1 337.6,248.9 340.3,248.9 343.2,249.3 346.2,249.7 349.1,249.6 352.0,250.0 354.9,249.7 357.7,249.8 360.6,249.1 363.4,249.3 366.3,248.9 369.7,248.0 373.0,247.5 376.3,248.5 379.7,249.3 383.0,250.0 386.3,250.9 389.7,251.4 393.0,251.7 395.9,251.7 398.8,251.5 401.7,251.5 404.7,251.7 407.6,251.7 410.5,251.5 413.4,252.0 416.3,251.7 419.6,249.2 423.0,252.5 426.3,252.4 429.7,252.3 433.0,252.0 435.7,252.2 438.3,252.5 441.0,252.7 443.6,253.3 446.3,253.7 449.0,253.5 451.6,253.6 454.3,253.5 456.9,253.7 459.6,253.4 462.9,253.9 466.3,253.8 469.6,254.2 473.0,250.9 476.3,253.9 479.3,254.0 482.3,254.0 485.3,254.5 488.3,254.8 491.3,254.7 494.1,254.5 496.9,254.9 499.7,254.6 502.4,254.4 505.2,254.9 508.0,254.7 510.6,254.6 513.2,254.4 515.8,254.6 518.5,254.4 521.1,254.5 523.7,254.4 526.3,254.4 530.5,250.0 533.0,228.4 535.5,211.7 537.8,193.4 541.1,173.4 544.0,157.5 547.0,176.7 550.3,191.7 554.6,199.2 557.4,205.2 560.3,211.1 562.9,215.0 565.5,218.9 569.1,222.0 572.7,225.1 575.4,225.8 578.2,226.2 580.9,226.9 584.4,227.3 587.8,227.9 591.3,228.7 594.4,228.7 597.5,229.1 600.6,229.2 604.7,231.8 607.8,229.4 610.9,229.4 614.5,232.1 618.1,230.4 622.2,232.1 625.7,232.4 629.1,233.0 632.6,233.1 636.0,233.3 639.5,233.6 642.9,233.6 646.0,233.6 649.1,233.0 651.7,233.5 654.3,234.4 657.9,233.3 661.5,234.7 664.6,233.6 669.7,234.9 673.9,234.1 678.0,234.1" stroke="#000" stroke-opacity="0.1" stroke-width="1.5"/><polyline points="868.6,277.0 871.6,283.0 875.3,275.0 879.5,270.0 883.2,267.6 887.0,265.0 890.3,264.1 893.7,263.1 897.0,261.7 899.7,261.7 902.3,261.1 905.0,260.9 907.6,259.7 910.3,259.7 913.1,259.3 915.9,259.4 918.6,258.8 921.4,258.6 924.2,257.5 927.0,257.5 929.8,257.2 932.5,256.8 935.3,256.8 938.1,256.5 940.8,255.7 943.6,255.9 946.4,255.5 949.2,255.4 951.9,255.8 954.7,255.6 957.5,254.9 960.3,255.0 963.1,255.2 965.9,254.6 968.6,255.0 971.4,254.5 974.2,254.3 977.0,254.7 980.3,256.1 983.6,256.7 986.3,256.3 989.0,256.1 991.6,256.7 994.3,256.4 997.0,255.9 1000.3,256.0 1003.7,256.9 1007.0,256.7 1009.9,256.7 1012.8,256.7 1015.7,256.2 1018.6,256.4 1021.9,255.3 1025.3,253.4 1027.9,253.3 1030.5,253.4 1033.1,253.0 1035.8,252.3 1038.4,252.1 1041.0,251.7 1043.6,251.7 1046.4,251.2 1049.2,250.8 1052.0,250.8 1054.7,250.8 1057.5,250.0 1060.3,250.2 1063.6,250.6 1067.0,250.5 1070.3,250.9 1073.6,250.7 1077.0,250.9 1079.8,250.8 1082.5,250.2 1085.3,249.7 1088.1,249.4 1090.8,249.3 1093.6,248.7 1096.4,247.9 1099.2,248.3 1102.0,247.0 1104.7,247.3 1107.5,246.9 1110.3,246.2 1113.1,246.0 1115.9,246.9 1118.6,246.7 1121.4,247.2 1124.2,246.9 1127.0,247.5 1129.8,247.3 1132.5,247.6 1135.3,248.5 1138.1,248.0 1140.8,248.8 1143.6,248.7 1146.7,249.3 1149.8,249.5 1153.0,249.1 1156.1,249.4 1159.0,249.1 1161.9,249.0 1164.8,249.0 1167.8,248.1 1170.7,248.5 1173.6,248.0 1176.6,248.6 1179.6,249.0 1182.6,248.6 1185.6,249.8 1188.6,249.7 1191.2,249.5 1193.9,249.9 1196.5,250.4 1199.1,250.8 1201.7,250.5 1204.4,251.2 1207.0,251.0 1209.6,251.0 1212.2,250.7 1214.8,250.6 1217.5,250.4 1220.1,250.2 1222.7,250.2 1225.3,250.4 1228.0,251.2 1230.6,252.1 1233.3,251.9 1235.9,252.4 1238.6,253.4 1241.3,254.0 1244.0,253.8 1246.6,253.8 1249.3,253.8 1252.0,254.2 1255.0,254.5 1258.0,254.8 1261.0,254.7 1264.0,254.8 1267.0,255.0" stroke="#000" stroke-opacity="0.1" stroke-width="1.5"/><polyline points="150.8,281.7 153.8,275.0 156.7,268.3 161.7,260.8 164.5,259.1 167.2,258.1 170.0,256.3 172.7,254.9 175.3,254.0 178.0,252.5 180.6,251.3 183.3,250.3 186.0,250.3 188.7,249.5 191.3,249.5 194.0,249.1 196.7,248.8 200.3,242.5 204.2,248.3 207.9,248.7 211.7,249.2 214.6,249.8 217.5,250.5 220.8,250.1 224.2,250.0 228.3,248.3 230.9,248.4 233.6,247.8 236.2,247.8 238.8,247.6 241.4,247.6 244.1,247.6 246.7,247.5 250.8,246.3 254.2,238.3 257.5,244.2 261.2,245.5 265.0,246.3 267.8,246.1 270.5,245.9 273.3,246.0 276.1,245.8 278.9,246.2 281.6,245.6 284.4,245.9 287.2,245.8 290.0,245.8 292.8,246.0 295.7,245.9 298.5,246.2 301.4,246.1 304.2,246.2 308.0,244.7 310.6,245.8 313.3,246.7 316.0,247.0 318.6,246.8 321.3,246.6 324.0,246.6 326.6,247.2 329.3,247.0 332.0,246.9 334.7,247.4 337.3,247.2 340.0,247.2 342.9,247.6 345.9,248.0 348.8,247.9 351.7,248.3 354.6,248.0 357.4,248.1 360.3,247.4 363.1,247.6 366.0,247.2 369.4,246.3 372.7,245.8 376.0,246.7 379.4,247.6 382.7,248.3 386.0,249.1 389.4,249.6 392.7,250.0 395.6,250.0 398.5,249.8 401.4,249.8 404.4,250.0 407.3,250.0 410.2,249.7 413.1,250.2 416.0,250.0 419.3,247.5 422.7,250.8 426.0,250.6 429.4,250.6 432.7,250.3 435.4,250.5 438.0,250.8 440.7,251.0 443.3,251.6 446.0,252.0 448.7,251.8 451.3,251.8 454.0,251.7 456.6,252.0 459.3,251.7 462.6,252.2 466.0,252.0 469.3,252.5 472.7,249.2 476.0,252.2 479.0,252.3 482.0,252.3 485.0,252.8 488.0,253.1 491.0,253.0 493.8,252.8 496.6,253.2 499.4,252.9 502.1,252.7 504.9,253.2 507.7,253.0 510.3,252.9 512.9,252.7 515.5,252.8 518.2,252.7 520.8,252.7 523.4,252.7 526.0,252.7 530.2,248.3 532.7,226.7 535.2,210.0 537.5,191.7 540.8,171.7 543.7,155.8 546.7,175.0 550.0,190.0 554.3,197.5 557.1,203.4 560.0,209.4 562.6,213.3 565.2,217.2 568.8,220.3 572.4,223.4 575.1,224.1 577.9,224.5 580.6,225.2 584.1,225.6 587.5,226.2 591.0,227.0 594.1,226.9 597.2,227.3 600.3,227.5 604.4,230.1 607.5,227.7 610.6,227.7 614.2,230.4 617.8,228.7 621.9,230.4 625.4,230.6 628.8,231.3 632.3,231.4 635.7,231.6 639.2,231.9 642.6,231.9 645.7,231.9 648.8,231.3 651.4,231.7 654.0,232.7 657.6,231.6 661.2,233.0 664.3,231.9 669.4,233.2 673.6,232.4 677.7,232.4" stroke="#9440ed" stroke-width="2"/><polyline points="868.3,275.3 871.3,281.3 875.0,273.3 879.2,268.3 883.0,265.9 886.7,263.3 890.0,262.4 893.4,261.4 896.7,260.0 899.4,260.0 902.0,259.4 904.7,259.2 907.3,258.0 910.0,258.0 912.8,257.6 915.6,257.7 918.4,257.0 921.1,256.9 923.9,255.8 926.7,255.8 929.5,255.5 932.2,255.0 935.0,255.0 937.8,254.8 940.5,254.0 943.3,254.2 946.1,253.8 948.9,253.7 951.6,254.1 954.4,253.8 957.2,253.1 960.0,253.3 962.8,253.5 965.6,252.9 968.4,253.3 971.1,252.8 973.9,252.6 976.7,253.0 980.0,254.3 983.3,255.0 986.0,254.6 988.7,254.4 991.3,255.0 994.0,254.7 996.7,254.2 1000.0,254.3 1003.4,255.1 1006.7,255.0 1009.6,255.0 1012.5,255.0 1015.4,254.5 1018.3,254.7 1021.6,253.6 1025.0,251.7 1027.6,251.6 1030.2,251.6 1032.8,251.3 1035.5,250.5 1038.1,250.4 1040.7,249.9 1043.3,250.0 1046.1,249.4 1048.9,249.1 1051.7,249.1 1054.4,249.1 1057.2,248.3 1060.0,248.5 1063.3,248.9 1066.7,248.8 1070.0,249.2 1073.3,249.0 1076.7,249.2 1079.5,249.1 1082.2,248.4 1085.0,247.9 1087.8,247.7 1090.5,247.6 1093.3,247.0 1096.1,246.2 1098.9,246.6 1101.7,245.3 1104.4,245.6 1107.2,245.2 1110.0,244.5 1112.8,244.3 1115.6,245.2 1118.3,245.0 1121.1,245.4 1123.9,245.1 1126.7,245.8 1129.5,245.6 1132.2,245.9 1135.0,246.8 1137.8,246.3 1140.5,247.0 1143.3,247.0 1146.4,247.6 1149.5,247.7 1152.7,247.4 1155.8,247.7 1158.7,247.3 1161.6,247.3 1164.5,247.2 1167.5,246.4 1170.4,246.8 1173.3,246.3 1176.3,246.9 1179.3,247.3 1182.3,246.9 1185.3,248.1 1188.3,248.0 1190.9,247.8 1193.6,248.2 1196.2,248.7 1198.8,249.1 1201.4,248.8 1204.1,249.5 1206.7,249.3 1209.3,249.3 1211.9,249.0 1214.5,248.9 1217.2,248.7 1219.8,248.5 1222.4,248.5 1225.0,248.7 1227.7,249.5 1230.3,250.3 1233.0,250.2 1235.6,250.7 1238.3,251.7 1241.0,252.3 1243.7,252.1 1246.3,252.1 1249.0,252.1 1251.7,252.5 1254.7,252.7 1257.7,253.1 1260.7,252.9 1263.7,253.1 1266.7,253.3" stroke="#9440ed" stroke-width="2"/></g>
<g><polyline points="150.8,369.0 157.8,349.9 166.4,338.6 175.2,334.2 189.1,331.4 199.4,330.8 231.2,331.2 247.1,330.5 255.4,327.8 273.7,328.3 307.1,328.3 340.4,329.2 355.4,329.2 366.4,328.0 383.1,330.0 399.7,331.7 419.7,331.2 449.7,332.8 499.7,334.2 526.4,334.7 533.1,332.5 539.7,322.5 545.6,314.2 548.1,320.8 551.4,329.2 557.4,342.5 565.4,356.2 573.7,361.7 587.1,365.0 605.4,366.7 630.4,368.3 655.4,369.5 678.4,370.0" stroke="#000" stroke-opacity="0.1" stroke-width="3"/><polyline points="868.7,367.5 872.1,359.2 877.1,350.8 880.4,347.8 883.7,345.0 887.1,343.6 890.4,342.3 893.7,340.8 896.5,340.2 899.3,339.7 902.1,339.1 904.9,338.4 907.6,338.0 910.4,337.5 913.3,337.2 916.1,336.9 919.0,336.2 921.9,336.0 924.7,335.5 927.6,335.4 930.4,335.0 933.2,334.8 936.0,334.2 938.8,334.3 941.6,334.0 944.3,333.6 947.1,333.3 949.9,333.2 952.6,333.0 955.3,332.8 958.0,333.0 960.8,332.7 963.5,332.7 966.2,332.6 968.9,332.5 971.7,332.6 974.4,332.5 977.1,332.5 980.0,332.8 982.8,333.0 985.7,333.2 988.6,333.4 991.4,333.7 994.3,333.9 997.1,334.2 999.9,334.0 1002.7,334.2 1005.4,334.2 1008.2,334.0 1011.0,333.9 1013.7,333.8 1016.4,333.4 1019.2,333.1 1021.9,332.9 1024.6,332.5 1027.3,332.6 1030.0,332.1 1032.7,332.1 1035.4,331.7 1038.2,331.4 1041.0,331.4 1043.8,331.1 1046.5,330.5 1049.3,330.3 1052.1,330.4 1054.9,329.9 1057.7,329.9 1060.4,329.5 1063.2,329.4 1066.0,329.3 1068.8,329.5 1071.6,329.6 1074.3,329.4 1077.1,329.5 1079.9,329.0 1082.7,328.7 1085.5,328.6 1088.2,328.2 1091.0,327.6 1093.8,327.4 1096.6,327.0 1099.3,326.6 1102.1,326.6 1104.9,326.0 1107.7,325.8 1110.4,325.5 1113.3,325.5 1116.1,325.5 1119.0,325.9 1121.9,325.7 1124.7,326.0 1127.6,325.9 1130.4,326.2 1133.2,326.3 1136.0,326.4 1138.8,326.6 1141.5,327.1 1144.3,327.2 1147.1,327.1 1149.9,327.6 1152.7,327.5 1155.4,327.8 1158.3,327.6 1161.1,327.6 1164.0,327.3 1166.9,327.0 1169.7,327.2 1172.6,326.7 1175.4,326.7 1178.0,326.8 1180.7,327.2 1183.3,327.3 1185.9,327.5 1188.5,327.6 1191.1,327.9 1193.7,328.3 1196.6,328.5 1199.4,328.6 1202.3,328.9 1205.2,329.0 1208.0,329.2 1210.9,329.6 1213.7,329.7 1217.1,329.5 1220.4,329.4 1223.7,329.2 1226.6,329.7 1229.4,329.8 1232.3,330.2 1235.2,330.9 1238.0,331.3 1240.9,331.5 1243.7,332.0 1246.3,332.0 1248.9,332.3 1251.5,332.6 1254.1,332.4 1256.7,332.9 1259.3,333.0 1261.9,333.0 1264.5,333.1 1267.1,333.3" stroke="#000" stroke-opacity="0.1" stroke-width="3"/><polyline points="150.7,368.2 157.7,349.1 166.3,337.8 175.1,333.4 189.0,330.6 199.3,330.0 231.1,330.4 247.0,329.7 255.3,327.0 273.6,327.5 307.0,327.5 340.3,328.4 355.3,328.4 366.3,327.2 383.0,329.2 399.6,330.9 419.6,330.4 449.6,332.0 499.6,333.4 526.3,333.9 533.0,331.7 539.6,321.7 545.5,313.4 548.0,320.0 551.3,328.4 557.3,341.7 565.3,355.4 573.6,360.9 587.0,364.2 605.3,365.9 630.3,367.5 655.3,368.7 678.3,369.2" stroke="#000" stroke-opacity="0.1" stroke-width="1.5"/><polyline points="868.6,366.7 872.0,358.4 877.0,350.0 880.3,347.1 883.6,344.2 886.9,342.8 890.3,341.6 893.6,340.0 896.4,339.5 899.2,338.9 901.9,338.4 904.7,337.7 907.5,337.3 910.3,336.7 913.2,336.4 916.0,336.1 918.9,335.5 921.7,335.2 924.6,334.8 927.4,334.7 930.3,334.2 933.1,334.0 935.9,333.5 938.6,333.6 941.4,333.3 944.2,332.9 947.0,332.5 949.7,332.5 952.5,332.2 955.2,332.1 957.9,332.2 960.6,332.0 963.4,332.0 966.1,331.9 968.8,331.8 971.5,331.9 974.3,331.8 977.0,331.7 979.9,332.1 982.7,332.2 985.6,332.5 988.4,332.7 991.3,333.0 994.1,333.2 997.0,333.4 999.8,333.3 1002.5,333.5 1005.3,333.4 1008.1,333.3 1010.8,333.2 1013.6,333.0 1016.3,332.7 1019.0,332.4 1021.7,332.1 1024.5,331.8 1027.2,331.8 1029.9,331.4 1032.6,331.3 1035.3,330.9 1038.1,330.6 1040.9,330.6 1043.6,330.3 1046.4,329.7 1049.2,329.6 1052.0,329.6 1054.7,329.2 1057.5,329.2 1060.3,328.7 1063.1,328.7 1065.9,328.5 1068.6,328.8 1071.4,328.8 1074.2,328.6 1077.0,328.7 1079.8,328.2 1082.5,328.0 1085.3,327.9 1088.1,327.5 1090.9,326.9 1093.6,326.6 1096.4,326.2 1099.2,325.9 1102.0,325.8 1104.8,325.3 1107.5,325.1 1110.3,324.7 1113.2,324.8 1116.0,324.8 1118.9,325.1 1121.7,325.0 1124.6,325.3 1127.4,325.2 1130.3,325.4 1133.1,325.6 1135.9,325.7 1138.6,325.9 1141.4,326.3 1144.2,326.4 1147.0,326.4 1149.7,326.8 1152.5,326.7 1155.3,327.0 1158.2,326.8 1161.0,326.8 1163.9,326.6 1166.7,326.2 1169.6,326.4 1172.4,326.0 1175.3,325.9 1177.9,326.1 1180.5,326.5 1183.1,326.5 1185.8,326.8 1188.4,326.9 1191.0,327.1 1193.6,327.5 1196.5,327.8 1199.3,327.8 1202.2,328.2 1205.0,328.3 1207.9,328.5 1210.7,328.9 1213.6,328.9 1216.9,328.7 1220.3,328.6 1223.6,328.4 1226.5,329.0 1229.3,329.1 1232.2,329.5 1235.0,330.2 1237.9,330.5 1240.7,330.7 1243.6,331.2 1246.2,331.2 1248.8,331.6 1251.4,331.8 1254.0,331.7 1256.6,332.1 1259.2,332.2 1261.8,332.3 1264.4,332.3 1267.0,332.5" stroke="#000" stroke-opacity="0.1" stroke-width="1.5"/><polyline points="150.4,366.5 157.4,347.4 166.0,336.1 174.8,331.7 188.7,328.9 199.0,328.3 230.8,328.7 246.7,328.0 255.0,325.3 273.3,325.8 306.7,325.8 340.0,326.7 355.0,326.7 366.0,325.5 382.7,327.5 399.3,329.2 419.3,328.7 449.3,330.3 499.3,331.7 526.0,332.2 532.7,330.0 539.3,320.0 545.2,311.7 547.7,318.3 551.0,326.7 557.0,340.0 565.0,353.7 573.3,359.2 586.7,362.5 605.0,364.2 630.0,365.8 655.0,367.0 678.0,367.5" stroke="#bd9b33" stroke-width="2"/><polyline points="868.3,365.0 871.7,356.7 876.7,348.3 880.0,345.4 883.3,342.5 886.6,341.1 890.0,339.9 893.3,338.3 896.1,337.7 898.9,337.2 901.6,336.7 904.4,336.0 907.2,335.6 910.0,335.0 912.9,334.7 915.7,334.4 918.6,333.8 921.4,333.5 924.3,333.1 927.1,333.0 930.0,332.5 932.8,332.3 935.6,331.8 938.4,331.8 941.1,331.6 943.9,331.1 946.7,330.8 949.4,330.8 952.2,330.5 954.9,330.4 957.6,330.5 960.3,330.3 963.1,330.2 965.8,330.2 968.5,330.0 971.2,330.1 974.0,330.0 976.7,330.0 979.6,330.4 982.4,330.5 985.3,330.8 988.1,331.0 991.0,331.3 993.8,331.4 996.7,331.7 999.5,331.5 1002.2,331.8 1005.0,331.7 1007.8,331.6 1010.5,331.4 1013.3,331.3 1016.0,331.0 1018.7,330.7 1021.4,330.4 1024.2,330.1 1026.9,330.1 1029.6,329.7 1032.3,329.6 1035.0,329.2 1037.8,328.9 1040.6,328.9 1043.3,328.6 1046.1,328.0 1048.9,327.9 1051.7,327.9 1054.4,327.5 1057.2,327.4 1060.0,327.0 1062.8,327.0 1065.6,326.8 1068.3,327.1 1071.1,327.1 1073.9,326.9 1076.7,327.0 1079.5,326.5 1082.2,326.3 1085.0,326.2 1087.8,325.8 1090.6,325.2 1093.3,324.9 1096.1,324.5 1098.9,324.2 1101.7,324.1 1104.5,323.5 1107.2,323.4 1110.0,323.0 1112.9,323.1 1115.7,323.1 1118.6,323.4 1121.4,323.3 1124.3,323.6 1127.1,323.4 1130.0,323.7 1132.8,323.8 1135.6,323.9 1138.3,324.1 1141.1,324.6 1143.9,324.7 1146.7,324.7 1149.4,325.1 1152.2,325.0 1155.0,325.3 1157.9,325.1 1160.7,325.1 1163.6,324.9 1166.4,324.5 1169.3,324.7 1172.1,324.2 1175.0,324.2 1177.6,324.3 1180.2,324.8 1182.8,324.8 1185.5,325.0 1188.1,325.2 1190.7,325.4 1193.3,325.8 1196.2,326.0 1199.0,326.1 1201.9,326.4 1204.7,326.5 1207.6,326.8 1210.4,327.2 1213.3,327.2 1216.6,327.0 1220.0,326.9 1223.3,326.7 1226.2,327.2 1229.0,327.4 1231.9,327.8 1234.7,328.5 1237.6,328.8 1240.4,329.0 1243.3,329.5 1245.9,329.5 1248.5,329.9 1251.1,330.1 1253.7,330.0 1256.3,330.4 1258.9,330.5 1261.5,330.6 1264.1,330.6 1266.7,330.8" stroke="#bd9b33" stroke-width="2"/></g>
<g><polyline points="150.8,362.1 157.8,336.0 166.4,322.1 175.2,315.1 185.6,311.3 199.4,309.9 231.2,309.5 253.4,309.2 258.7,307.8 366.4,308.1 406.4,310.5 449.7,311.7 499.7,313.3 529.7,313.8 534.7,311.7 539.7,307.5 543.9,303.3 549.7,312.5 556.4,325.8 563.4,339.5 572.4,348.5 585.4,353.5 597.1,356.2 613.7,357.8 630.4,360.0 655.4,360.8 678.4,361.2" stroke="#000" stroke-opacity="0.1" stroke-width="3"/><polyline points="868.7,360.0 872.1,347.5 877.1,334.2 882.1,328.3 884.9,326.4 887.7,324.4 890.4,322.5 893.8,321.5 897.1,320.3 900.4,319.5 903.4,319.2 906.4,318.8 909.4,318.3 912.4,317.7 915.4,317.5 918.3,317.2 921.1,316.8 924.0,316.5 926.9,316.5 929.7,316.2 932.6,315.6 935.4,315.5 938.1,315.4 940.9,315.1 943.6,314.8 946.3,314.5 949.0,314.5 951.7,314.2 954.4,314.0 957.1,313.8 960.0,313.8 963.0,313.5 965.9,313.7 968.8,313.7 971.7,313.6 974.6,313.4 977.5,313.1 980.4,313.3 983.8,313.5 987.1,313.9 990.4,314.5 993.3,314.6 996.3,314.3 999.2,314.3 1002.1,314.5 1005.0,314.2 1007.9,314.3 1010.8,314.2 1013.7,314.2 1016.4,313.8 1019.2,313.8 1021.9,313.7 1024.6,313.2 1027.3,313.0 1030.0,312.9 1032.7,312.5 1035.4,312.5 1038.2,312.3 1041.0,312.2 1043.8,311.9 1046.5,311.7 1049.3,311.6 1052.1,311.1 1054.9,311.1 1057.7,310.8 1060.4,310.7 1063.2,310.5 1066.0,310.2 1068.8,310.3 1071.5,309.8 1074.3,309.7 1077.1,309.8 1079.9,309.7 1082.7,309.3 1085.4,309.2 1088.1,308.8 1090.8,308.4 1093.4,308.0 1096.1,307.8 1098.8,307.3 1101.5,307.0 1104.1,306.8 1106.8,306.3 1109.5,306.2 1112.1,305.8 1115.0,306.0 1118.0,306.1 1120.9,306.1 1123.8,306.1 1126.7,306.3 1129.6,306.2 1132.5,306.6 1135.4,306.7 1138.2,306.7 1141.0,306.8 1143.8,306.8 1146.5,307.0 1149.3,307.1 1152.1,307.1 1154.9,307.4 1157.7,307.4 1160.4,307.5 1163.2,307.4 1166.0,307.5 1168.8,307.6 1171.6,307.5 1174.3,307.5 1177.1,307.5 1179.9,307.5 1182.7,307.8 1185.5,308.0 1188.2,308.2 1191.0,308.4 1193.8,308.6 1196.6,308.8 1199.4,309.0 1202.1,309.2 1204.9,309.1 1207.7,309.3 1210.5,309.6 1213.2,309.5 1216.0,309.4 1218.8,309.5 1221.6,309.8 1224.4,309.7 1227.1,310.0 1229.9,310.2 1232.7,310.5 1235.4,311.0 1238.2,311.6 1241.0,311.8 1243.7,312.2 1246.3,312.3 1248.9,312.5 1251.5,312.7 1254.1,312.8 1256.7,313.1 1259.3,313.3 1261.9,313.4 1264.5,313.5 1267.1,313.7" stroke="#000" stroke-opacity="0.1" stroke-width="3"/><polyline points="150.7,361.3 157.7,335.2 166.3,321.3 175.1,314.3 185.5,310.5 199.3,309.1 231.1,308.7 253.3,308.4 258.6,307.0 366.3,307.3 406.3,309.7 449.6,310.9 499.6,312.5 529.6,313.0 534.6,310.9 539.6,306.7 543.8,302.5 549.6,311.7 556.3,325.0 563.3,338.7 572.3,347.7 585.3,352.7 597.0,355.4 613.6,357.0 630.3,359.2 655.3,360.0 678.3,360.4" stroke="#000" stroke-opacity="0.1" stroke-width="1.5"/><polyline points="868.6,359.2 872.0,346.7 877.0,333.4 882.0,327.5 884.8,325.6 887.5,323.6 890.3,321.7 893.6,320.8 897.0,319.6 900.3,318.7 903.3,318.4 906.3,318.0 909.3,317.6 912.3,317.0 915.3,316.7 918.2,316.4 921.0,316.1 923.9,315.8 926.7,315.8 929.6,315.5 932.4,314.8 935.3,314.7 938.0,314.7 940.7,314.3 943.4,314.0 946.1,313.8 948.9,313.7 951.6,313.4 954.3,313.3 957.0,313.0 959.9,313.0 962.8,312.7 965.7,312.9 968.6,313.0 971.6,312.9 974.5,312.7 977.4,312.4 980.3,312.5 983.6,312.7 987.0,313.2 990.3,313.7 993.2,313.9 996.1,313.6 999.0,313.6 1001.9,313.7 1004.9,313.5 1007.8,313.5 1010.7,313.4 1013.6,313.4 1016.3,313.0 1019.0,313.0 1021.7,312.9 1024.5,312.4 1027.2,312.2 1029.9,312.1 1032.6,311.7 1035.3,311.7 1038.1,311.5 1040.9,311.4 1043.6,311.2 1046.4,310.9 1049.2,310.9 1052.0,310.4 1054.7,310.3 1057.5,310.1 1060.3,309.9 1063.1,309.8 1065.9,309.4 1068.6,309.5 1071.4,309.1 1074.2,309.0 1077.0,309.0 1079.7,308.9 1082.5,308.6 1085.3,308.4 1088.0,308.0 1090.6,307.6 1093.3,307.3 1096.0,307.1 1098.6,306.6 1101.3,306.2 1104.0,306.0 1106.7,305.6 1109.3,305.4 1112.0,305.0 1114.9,305.3 1117.8,305.4 1120.7,305.3 1123.6,305.4 1126.6,305.6 1129.5,305.5 1132.4,305.9 1135.3,305.9 1138.1,305.9 1140.9,306.0 1143.6,306.0 1146.4,306.3 1149.2,306.4 1152.0,306.4 1154.7,306.7 1157.5,306.7 1160.3,306.7 1163.1,306.6 1165.9,306.7 1168.6,306.9 1171.4,306.7 1174.2,306.8 1177.0,306.7 1179.8,306.7 1182.6,307.1 1185.3,307.3 1188.1,307.4 1190.9,307.6 1193.7,307.9 1196.4,308.1 1199.2,308.2 1202.0,308.4 1204.8,308.4 1207.6,308.6 1210.3,308.9 1213.1,308.7 1215.9,308.7 1218.7,308.8 1221.4,309.1 1224.2,309.0 1227.0,309.2 1229.8,309.4 1232.5,309.8 1235.3,310.3 1238.1,310.9 1240.8,311.0 1243.6,311.4 1246.2,311.6 1248.8,311.7 1251.4,311.9 1254.0,312.1 1256.6,312.3 1259.2,312.6 1261.8,312.7 1264.4,312.7 1267.0,312.9" stroke="#000" stroke-opacity="0.1" stroke-width="1.5"/><polyline points="150.4,359.6 157.4,333.5 166.0,319.6 174.8,312.6 185.2,308.8 199.0,307.4 230.8,307.0 253.0,306.7 258.3,305.3 366.0,305.6 406.0,308.0 449.3,309.2 499.3,310.8 529.3,311.3 534.3,309.2 539.3,305.0 543.5,300.8 549.3,310.0 556.0,323.3 563.0,337.0 572.0,346.0 585.0,351.0 596.7,353.7 613.3,355.3 630.0,357.5 655.0,358.3 678.0,358.7" stroke="#8cacc6" stroke-width="2"/><polyline points="868.3,357.5 871.7,345.0 876.7,331.7 881.7,325.8 884.5,323.9 887.2,321.9 890.0,320.0 893.3,319.0 896.7,317.9 900.0,317.0 903.0,316.7 906.0,316.3 909.0,315.9 912.0,315.3 915.0,315.0 917.9,314.7 920.7,314.4 923.6,314.0 926.4,314.0 929.3,313.8 932.1,313.1 935.0,313.0 937.7,312.9 940.4,312.6 943.1,312.3 945.9,312.1 948.6,312.0 951.3,311.7 954.0,311.6 956.7,311.3 959.6,311.3 962.5,311.0 965.4,311.2 968.4,311.2 971.3,311.2 974.2,311.0 977.1,310.7 980.0,310.8 983.3,311.0 986.7,311.5 990.0,312.0 992.9,312.1 995.8,311.8 998.7,311.8 1001.6,312.0 1004.6,311.7 1007.5,311.8 1010.4,311.7 1013.3,311.7 1016.0,311.3 1018.7,311.3 1021.4,311.2 1024.2,310.7 1026.9,310.5 1029.6,310.4 1032.3,310.0 1035.0,310.0 1037.8,309.8 1040.6,309.7 1043.3,309.5 1046.1,309.2 1048.9,309.1 1051.7,308.7 1054.4,308.6 1057.2,308.3 1060.0,308.2 1062.8,308.1 1065.6,307.7 1068.3,307.8 1071.1,307.4 1073.9,307.2 1076.7,307.3 1079.4,307.2 1082.2,306.8 1085.0,306.7 1087.7,306.3 1090.3,305.9 1093.0,305.6 1095.7,305.4 1098.3,304.9 1101.0,304.5 1103.7,304.3 1106.4,303.8 1109.0,303.7 1111.7,303.3 1114.6,303.5 1117.5,303.6 1120.4,303.6 1123.3,303.7 1126.3,303.8 1129.2,303.8 1132.1,304.2 1135.0,304.2 1137.8,304.2 1140.6,304.3 1143.3,304.3 1146.1,304.5 1148.9,304.7 1151.7,304.7 1154.4,305.0 1157.2,305.0 1160.0,305.0 1162.8,304.9 1165.6,305.0 1168.3,305.2 1171.1,305.0 1173.9,305.0 1176.7,305.0 1179.5,305.0 1182.3,305.4 1185.0,305.6 1187.8,305.7 1190.6,305.9 1193.4,306.2 1196.1,306.3 1198.9,306.5 1201.7,306.7 1204.5,306.7 1207.3,306.9 1210.0,307.2 1212.8,307.0 1215.6,307.0 1218.4,307.0 1221.1,307.3 1223.9,307.2 1226.7,307.5 1229.5,307.7 1232.2,308.1 1235.0,308.6 1237.8,309.2 1240.5,309.3 1243.3,309.7 1245.9,309.9 1248.5,310.0 1251.1,310.2 1253.7,310.3 1256.3,310.6 1258.9,310.9 1261.5,310.9 1264.1,311.0 1266.7,311.2" stroke="#8cacc6" stroke-width="2"/></g>
<g><polyline points="150.8,365.5 157.8,342.9 166.4,329.9 175.2,324.7 185.6,322.1 199.4,320.3 231.2,319.7 247.1,319.2 255.4,316.7 273.7,316.7 307.1,317.5 348.7,318.3 366.4,317.5 383.1,318.8 399.7,320.5 433.1,321.2 466.4,322.8 499.7,323.7 526.4,323.8 533.1,320.0 539.7,309.2 543.9,303.3 548.1,310.8 554.7,327.5 561.4,340.5 568.4,348.5 576.4,353.0 585.4,356.2 597.1,358.3 613.7,360.0 630.4,361.7 655.4,362.5 672.1,363.0 678.4,362.5" stroke="#000" stroke-opacity="0.1" stroke-width="3"/><polyline points="868.7,360.0 872.1,350.8 877.1,342.5 879.9,340.5 882.7,338.5 885.4,336.7 888.4,335.3 891.3,334.3 894.2,332.7 897.1,331.7 899.7,331.2 902.4,331.0 905.0,330.2 907.6,330.0 910.2,329.6 912.8,329.0 915.4,328.8 918.3,328.5 921.1,328.4 924.0,328.1 926.9,327.9 929.7,327.5 932.6,327.3 935.4,327.2 938.1,326.8 940.9,326.7 943.6,326.7 946.3,326.3 949.0,326.2 951.7,325.8 954.4,325.8 957.1,325.5 960.0,325.3 963.0,325.3 965.9,325.4 968.8,325.4 971.7,325.2 974.6,325.1 977.5,325.1 980.4,325.2 983.0,325.3 985.7,325.5 988.3,325.9 990.9,325.9 993.5,326.4 996.1,326.6 998.7,326.7 1001.7,326.4 1004.7,326.5 1007.7,326.4 1010.7,326.1 1013.7,326.3 1016.4,326.0 1019.2,325.9 1021.9,325.3 1024.6,325.2 1027.3,324.8 1030.0,324.7 1032.7,324.6 1035.4,324.2 1038.2,323.9 1041.0,323.6 1043.8,323.5 1046.5,323.5 1049.3,323.1 1052.1,323.0 1054.9,323.0 1057.7,323.0 1060.4,322.7 1063.3,322.6 1066.1,322.6 1069.0,322.6 1071.9,322.4 1074.7,322.5 1077.6,322.4 1080.4,322.5 1083.2,322.1 1085.9,321.9 1088.6,321.1 1091.3,321.0 1094.1,320.6 1096.8,320.0 1099.5,319.7 1102.2,319.6 1105.0,319.2 1107.7,318.5 1110.4,318.3 1113.3,318.4 1116.1,318.6 1119.0,318.3 1121.9,318.5 1124.7,318.4 1127.6,318.5 1130.4,318.7 1133.3,318.9 1136.3,319.0 1139.2,319.3 1142.1,319.1 1145.0,319.4 1147.9,319.8 1150.8,319.8 1153.7,320.0 1156.6,319.8 1159.4,319.7 1162.3,319.8 1165.2,319.5 1168.0,319.2 1170.9,319.4 1173.7,319.2 1176.6,319.4 1179.4,319.7 1182.3,319.9 1185.2,320.3 1188.0,320.5 1190.9,320.7 1193.7,321.2 1196.6,321.4 1199.4,321.4 1202.3,321.8 1205.2,321.7 1208.0,322.2 1210.9,322.4 1213.7,322.5 1216.4,322.5 1219.1,322.5 1221.8,322.4 1224.5,322.6 1227.1,322.5 1229.9,322.7 1232.7,322.9 1235.4,323.5 1238.2,323.6 1241.0,323.8 1243.7,324.2 1246.3,324.4 1248.9,324.4 1251.5,324.6 1254.1,324.5 1256.7,324.9 1259.3,324.8 1261.9,324.8 1264.5,325.3 1267.1,325.3" stroke="#000" stroke-opacity="0.1" stroke-width="3"/><polyline points="150.7,364.7 157.7,342.1 166.3,329.1 175.1,323.9 185.5,321.3 199.3,319.5 231.1,318.9 247.0,318.4 255.3,315.9 273.6,315.9 307.0,316.7 348.6,317.5 366.3,316.7 383.0,318.0 399.6,319.7 433.0,320.4 466.3,322.0 499.6,322.9 526.3,323.0 533.0,319.2 539.6,308.4 543.8,302.5 548.0,310.0 554.6,326.7 561.3,339.7 568.3,347.7 576.3,352.2 585.3,355.4 597.0,357.5 613.6,359.2 630.3,360.9 655.3,361.7 672.0,362.2 678.3,361.7" stroke="#000" stroke-opacity="0.1" stroke-width="1.5"/><polyline points="868.6,359.2 872.0,350.0 877.0,341.7 879.8,339.8 882.5,337.8 885.3,335.9 888.2,334.5 891.1,333.6 894.1,332.0 897.0,330.9 899.6,330.5 902.2,330.3 904.8,329.5 907.5,329.3 910.1,328.9 912.7,328.3 915.3,328.0 918.2,327.7 921.0,327.6 923.9,327.3 926.7,327.2 929.6,326.7 932.4,326.5 935.3,326.4 938.0,326.1 940.7,326.0 943.4,326.0 946.1,325.6 948.9,325.5 951.6,325.1 954.3,325.0 957.0,324.7 959.9,324.5 962.8,324.6 965.7,324.7 968.6,324.7 971.6,324.5 974.5,324.3 977.4,324.4 980.3,324.4 982.9,324.5 985.5,324.8 988.1,325.2 990.8,325.2 993.4,325.6 996.0,325.9 998.6,325.9 1001.6,325.7 1004.6,325.7 1007.6,325.7 1010.6,325.4 1013.6,325.5 1016.3,325.2 1019.0,325.2 1021.7,324.6 1024.5,324.5 1027.2,324.1 1029.9,324.0 1032.6,323.8 1035.3,323.4 1038.1,323.1 1040.9,322.9 1043.6,322.8 1046.4,322.8 1049.2,322.4 1052.0,322.3 1054.7,322.3 1057.5,322.3 1060.3,321.9 1063.2,321.9 1066.0,321.8 1068.9,321.9 1071.7,321.6 1074.6,321.8 1077.4,321.6 1080.3,321.7 1083.0,321.4 1085.8,321.1 1088.5,320.4 1091.2,320.2 1093.9,319.9 1096.7,319.3 1099.4,319.0 1102.1,318.9 1104.8,318.5 1107.6,317.8 1110.3,317.5 1113.2,317.7 1116.0,317.8 1118.9,317.6 1121.7,317.8 1124.6,317.6 1127.4,317.8 1130.3,317.9 1133.2,318.2 1136.1,318.3 1139.0,318.5 1142.0,318.4 1144.9,318.7 1147.8,319.0 1150.7,319.1 1153.6,319.2 1156.5,319.1 1159.3,319.0 1162.2,319.1 1165.0,318.8 1167.9,318.5 1170.7,318.7 1173.6,318.4 1176.5,318.6 1179.3,319.0 1182.2,319.2 1185.0,319.5 1187.9,319.8 1190.7,320.0 1193.6,320.4 1196.5,320.7 1199.3,320.6 1202.2,321.1 1205.0,321.0 1207.9,321.5 1210.7,321.7 1213.6,321.7 1216.3,321.7 1219.0,321.8 1221.6,321.6 1224.3,321.8 1227.0,321.7 1229.8,322.0 1232.5,322.2 1235.3,322.8 1238.1,322.8 1240.8,323.1 1243.6,323.4 1246.2,323.7 1248.8,323.6 1251.4,323.9 1254.0,323.8 1256.6,324.2 1259.2,324.1 1261.8,324.1 1264.4,324.6 1267.0,324.5" stroke="#000" stroke-opacity="0.1" stroke-width="1.5"/><polyline points="150.4,363.0 157.4,340.4 166.0,327.4 174.8,322.2 185.2,319.6 199.0,317.8 230.8,317.2 246.7,316.7 255.0,314.2 273.3,314.2 306.7,315.0 348.3,315.8 366.0,315.0 382.7,316.3 399.3,318.0 432.7,318.7 466.0,320.3 499.3,321.2 526.0,321.3 532.7,317.5 539.3,306.7 543.5,300.8 547.7,308.3 554.3,325.0 561.0,338.0 568.0,346.0 576.0,350.5 585.0,353.7 596.7,355.8 613.3,357.5 630.0,359.2 655.0,360.0 671.7,360.5 678.0,360.0" stroke="#a23c3c" stroke-width="2"/><polyline points="868.3,357.5 871.7,348.3 876.7,340.0 879.5,338.1 882.2,336.1 885.0,334.2 887.9,332.8 890.9,331.8 893.8,330.3 896.7,329.2 899.3,328.8 901.9,328.5 904.5,327.8 907.2,327.6 909.8,327.2 912.4,326.5 915.0,326.3 917.9,326.0 920.7,325.9 923.6,325.6 926.4,325.5 929.3,325.0 932.1,324.8 935.0,324.7 937.7,324.3 940.4,324.3 943.1,324.2 945.9,323.9 948.6,323.7 951.3,323.4 954.0,323.3 956.7,323.0 959.6,322.8 962.5,322.8 965.4,323.0 968.4,322.9 971.3,322.8 974.2,322.6 977.1,322.6 980.0,322.7 982.6,322.8 985.2,323.0 987.8,323.5 990.5,323.4 993.1,323.9 995.7,324.1 998.3,324.2 1001.3,323.9 1004.3,324.0 1007.3,324.0 1010.3,323.7 1013.3,323.8 1016.0,323.5 1018.7,323.4 1021.4,322.9 1024.2,322.8 1026.9,322.3 1029.6,322.3 1032.3,322.1 1035.0,321.7 1037.8,321.4 1040.6,321.2 1043.3,321.0 1046.1,321.0 1048.9,320.7 1051.7,320.5 1054.4,320.5 1057.2,320.5 1060.0,320.2 1062.9,320.1 1065.7,320.1 1068.6,320.2 1071.4,319.9 1074.3,320.1 1077.1,319.9 1080.0,320.0 1082.7,319.7 1085.5,319.4 1088.2,318.7 1090.9,318.5 1093.6,318.1 1096.4,317.6 1099.1,317.2 1101.8,317.1 1104.5,316.8 1107.3,316.0 1110.0,315.8 1112.9,315.9 1115.7,316.1 1118.6,315.9 1121.4,316.1 1124.3,315.9 1127.1,316.1 1130.0,316.2 1132.9,316.4 1135.8,316.6 1138.7,316.8 1141.7,316.7 1144.6,317.0 1147.5,317.3 1150.4,317.4 1153.3,317.5 1156.2,317.4 1159.0,317.2 1161.9,317.4 1164.7,317.1 1167.6,316.7 1170.4,316.9 1173.3,316.7 1176.2,316.9 1179.0,317.2 1181.9,317.4 1184.7,317.8 1187.6,318.1 1190.4,318.2 1193.3,318.7 1196.2,318.9 1199.0,318.9 1201.9,319.4 1204.7,319.3 1207.6,319.7 1210.4,319.9 1213.3,320.0 1216.0,320.0 1218.7,320.1 1221.3,319.9 1224.0,320.1 1226.7,320.0 1229.5,320.3 1232.2,320.5 1235.0,321.0 1237.8,321.1 1240.5,321.4 1243.3,321.7 1245.9,322.0 1248.5,321.9 1251.1,322.1 1253.7,322.1 1256.3,322.4 1258.9,322.3 1261.5,322.4 1264.1,322.9 1266.7,322.8" stroke="#a23c3c" stroke-width="2"/></g>
<g><polyline points="150.8,384.7 157.8,374.2 166.4,367.3 175.2,362.9 185.6,360.3 199.4,359.1 231.2,358.8 240.4,358.8 247.1,357.5 250.4,358.3 253.7,357.3 424.7,357.3 429.7,358.8 453.1,359.5 459.7,360.7 547.1,360.5 551.2,361.7 557.1,366.7 563.7,370.8 570.4,377.5 577.1,381.7 583.7,382.5 591.2,385.8 610.4,386.2 614.6,388.3 620.4,389.7 678.4,389.7" stroke="#000" stroke-opacity="0.1" stroke-width="3"/><polyline points="868.7,389.7 873.7,383.3 878.7,377.2 885.4,374.2 890.4,371.7 895.4,368.3 907.1,368.0 910.4,365.0 915.4,363.8 932.1,364.2 940.4,361.7 947.1,360.5 1043.7,360.5 1048.7,359.5 1053.7,359.2 1058.7,357.1 1092.1,357.2 1103.7,353.3 1193.7,353.3 1198.7,354.5 1202.1,356.2 1204.6,355.3 1207.1,356.7 1209.4,355.8 1212.1,357.2 1255.4,357.5 1260.4,358.3 1267.1,359.5" stroke="#000" stroke-opacity="0.1" stroke-width="3"/><polyline points="150.7,383.9 157.7,373.4 166.3,366.5 175.1,362.1 185.5,359.5 199.3,358.3 231.1,358.0 240.3,358.0 247.0,356.7 250.3,357.5 253.6,356.5 424.6,356.5 429.6,358.0 453.0,358.7 459.6,359.9 547.0,359.7 551.1,360.9 557.0,365.9 563.6,370.0 570.3,376.7 577.0,380.9 583.6,381.7 591.1,385.0 610.3,385.4 614.5,387.5 620.3,388.9 678.3,388.9" stroke="#000" stroke-opacity="0.1" stroke-width="1.5"/><polyline points="868.6,388.9 873.6,382.5 878.6,376.4 885.3,373.4 890.3,370.9 895.3,367.5 907.0,367.2 910.3,364.2 915.3,363.0 932.0,363.4 940.3,360.9 947.0,359.7 1043.6,359.7 1048.6,358.7 1053.6,358.4 1058.6,356.3 1092.0,356.4 1103.6,352.5 1193.6,352.5 1198.6,353.7 1202.0,355.4 1204.5,354.5 1207.0,355.9 1209.3,355.0 1212.0,356.4 1255.3,356.7 1260.3,357.5 1267.0,358.7" stroke="#000" stroke-opacity="0.1" stroke-width="1.5"/><polyline points="150.4,382.2 157.4,371.7 166.0,364.8 174.8,360.4 185.2,357.8 199.0,356.6 230.8,356.3 240.0,356.3 246.7,355.0 250.0,355.8 253.3,354.8 424.3,354.8 429.3,356.3 452.7,357.0 459.3,358.2 546.7,358.0 550.8,359.2 556.7,364.2 563.3,368.3 570.0,375.0 576.7,379.2 583.3,380.0 590.8,383.3 610.0,383.7 614.2,385.8 620.0,387.2 678.0,387.2" stroke="#3d853d" stroke-width="2"/><polyline points="868.3,387.2 873.3,380.8 878.3,374.7 885.0,371.7 890.0,369.2 895.0,365.8 906.7,365.5 910.0,362.5 915.0,361.3 931.7,361.7 940.0,359.2 946.7,358.0 1043.3,358.0 1048.3,357.0 1053.3,356.7 1058.3,354.6 1091.7,354.7 1103.3,350.8 1193.3,350.8 1198.3,352.0 1201.7,353.7 1204.2,352.8 1206.7,354.2 1209.0,353.3 1211.7,354.7 1255.0,355.0 1260.0,355.8 1266.7,357.0" stroke="#3d853d" stroke-width="2"/></g>
<g><polyline points="151.2,385.8 173.7,385.8 176.2,350.2 678.4,350.2" stroke="#000" stroke-opacity="0.1" stroke-width="3"/><polyline points="868.7,385.0 872.1,382.5 1267.1,382.5" stroke="#000" stroke-opacity="0.1" stroke-width="3"/><polyline points="151.1,385.0 173.6,385.0 176.1,349.4 678.3,349.4" stroke="#000" stroke-opacity="0.1" stroke-width="1.5"/><polyline points="868.6,384.2 872.0,381.7 1267.0,381.7" stroke="#000" stroke-opacity="0.1" stroke-width="1.5"/><polyline points="150.8,383.3 173.3,383.3 175.8,347.7 678.0,347.7" stroke="#7633bd" stroke-width="2"/><polyline points="868.3,382.5 871.7,380.0 1266.7,380.0" stroke="#7633bd" stroke-width="2"/></g>
<g><polyline points="150.8,377.7 157.8,365.5 166.4,355.1 175.2,350.8 185.6,346.4 197.8,344.7 201.3,343.0 395.6,342.8 398.9,346.3 513.1,346.3 517.2,350.5 529.7,350.0 545.4,350.5 556.4,351.5 565.4,353.5 570.4,356.2 574.6,364.2 578.7,365.8 582.1,368.3 588.7,368.8 594.6,375.5 597.9,375.5 602.1,371.2 607.1,372.5 611.2,375.8 615.4,375.5 618.7,371.2 640.4,371.2 668.7,373.3 675.4,382.5 678.4,382.5" stroke="#000" stroke-opacity="0.1" stroke-width="3"/><polyline points="868.7,382.2 875.4,379.2 879.6,374.2 882.1,371.4 1267.1,371.6" stroke="#000" stroke-opacity="0.1" stroke-width="3"/><polyline points="150.7,376.9 157.7,364.7 166.3,354.3 175.1,350.0 185.5,345.6 197.7,343.9 201.2,342.2 395.5,342.0 398.8,345.5 513.0,345.5 517.1,349.7 529.6,349.2 545.3,349.7 556.3,350.7 565.3,352.7 570.3,355.4 574.5,363.4 578.6,365.0 582.0,367.5 588.6,368.0 594.5,374.7 597.8,374.7 602.0,370.4 607.0,371.7 611.1,375.0 615.3,374.7 618.6,370.4 640.3,370.4 668.6,372.5 675.3,381.7 678.3,381.7" stroke="#000" stroke-opacity="0.1" stroke-width="1.5"/><polyline points="868.6,381.4 875.3,378.4 879.5,373.4 882.0,370.6 1267.0,370.8" stroke="#000" stroke-opacity="0.1" stroke-width="1.5"/><polyline points="150.4,375.2 157.4,363.0 166.0,352.6 174.8,348.3 185.2,343.9 197.4,342.2 200.9,340.5 395.2,340.3 398.5,343.8 512.7,343.8 516.8,348.0 529.3,347.5 545.0,348.0 556.0,349.0 565.0,351.0 570.0,353.7 574.2,361.7 578.3,363.3 581.7,365.8 588.3,366.3 594.2,373.0 597.5,373.0 601.7,368.7 606.7,370.0 610.8,373.3 615.0,373.0 618.3,368.7 640.0,368.7 668.3,370.8 675.0,380.0 678.0,380.0" stroke="#ffe84c" stroke-width="2"/><polyline points="868.3,379.7 875.0,376.7 879.2,371.7 881.7,368.9 1266.7,369.1" stroke="#ffe84c" stroke-width="2"/></g>
<g><polyline points="151.2,364.5 156.4,347.5 163.4,335.5 175.4,327.5 195.4,322.5 231.2,318.3 237.1,315.0 257.1,314.2 262.1,312.5 264.6,310.0 267.9,313.3 271.2,310.0 274.6,313.3 277.9,310.5 328.7,310.0 332.1,311.3 337.9,310.0 342.1,314.2 386.4,314.2 391.4,317.2 486.4,317.5 489.7,320.8 529.7,322.2 536.4,320.0 543.1,315.0 546.4,313.8 551.4,317.5 558.1,327.5 565.4,340.5 573.4,349.5 582.1,356.2 585.4,359.2 589.6,361.7 594.6,357.5 598.7,360.8 603.7,363.3 610.4,361.7 616.2,359.2 621.2,362.5 627.1,365.8 637.1,368.3 641.2,371.7 678.4,371.7" stroke="#000" stroke-opacity="0.1" stroke-width="3"/><polyline points="868.7,370.8 872.1,366.7 875.4,354.2 878.7,349.2 882.1,346.3 912.1,346.3 915.4,343.3 942.1,342.8 946.2,340.0 1047.1,339.5 1051.2,336.2 1094.6,335.8 1099.6,332.5 1208.7,332.5 1212.9,335.8 1262.9,336.2 1267.1,339.2" stroke="#000" stroke-opacity="0.1" stroke-width="3"/><polyline points="151.1,363.7 156.3,346.7 163.3,334.7 175.3,326.7 195.3,321.7 231.1,317.5 237.0,314.2 257.0,313.4 262.0,311.7 264.5,309.2 267.8,312.5 271.1,309.2 274.5,312.5 277.8,309.7 328.6,309.2 332.0,310.5 337.8,309.2 342.0,313.4 386.3,313.4 391.3,316.4 486.3,316.7 489.6,320.0 529.6,321.4 536.3,319.2 543.0,314.2 546.3,313.0 551.3,316.7 558.0,326.7 565.3,339.7 573.3,348.7 582.0,355.4 585.3,358.4 589.5,360.9 594.5,356.7 598.6,360.0 603.6,362.5 610.3,360.9 616.1,358.4 621.1,361.7 627.0,365.0 637.0,367.5 641.1,370.9 678.3,370.9" stroke="#000" stroke-opacity="0.1" stroke-width="1.5"/><polyline points="868.6,370.0 872.0,365.9 875.3,353.4 878.6,348.4 882.0,345.5 912.0,345.5 915.3,342.5 942.0,342.0 946.1,339.2 1047.0,338.7 1051.1,335.4 1094.5,335.0 1099.5,331.7 1208.6,331.7 1212.8,335.0 1262.8,335.4 1267.0,338.4" stroke="#000" stroke-opacity="0.1" stroke-width="1.5"/><polyline points="150.8,362.0 156.0,345.0 163.0,333.0 175.0,325.0 195.0,320.0 230.8,315.8 236.7,312.5 256.7,311.7 261.7,310.0 264.2,307.5 267.5,310.8 270.8,307.5 274.2,310.8 277.5,308.0 328.3,307.5 331.7,308.8 337.5,307.5 341.7,311.7 386.0,311.7 391.0,314.7 486.0,315.0 489.3,318.3 529.3,319.7 536.0,317.5 542.7,312.5 546.0,311.3 551.0,315.0 557.7,325.0 565.0,338.0 573.0,347.0 581.7,353.7 585.0,356.7 589.2,359.2 594.2,355.0 598.3,358.3 603.3,360.8 610.0,359.2 615.8,356.7 620.8,360.0 626.7,363.3 636.7,365.8 640.8,369.2 678.0,369.2" stroke="#d2ffff" stroke-width="2"/><polyline points="868.3,368.3 871.7,364.2 875.0,351.7 878.3,346.7 881.7,343.8 911.7,343.8 915.0,340.8 941.7,340.3 945.8,337.5 1046.7,337.0 1050.8,333.7 1094.2,333.3 1099.2,330.0 1208.3,330.0 1212.5,333.3 1262.5,333.7 1266.7,336.7" stroke="#d2ffff" stroke-width="2"/></g>
</svg>



<div class="ax" style="left:-40px;top:275px;width:100px;text-align:center;transform:rotate(-90deg);">Température °C</div>
<div class="ax" style="left:1287px;top:276px;width:100px;text-align:center;transform:rotate(90deg);">Tours par minute</div>

<div id="legend">
<div class="sw" style="top:3px"><i style="background:#edc240"></i></div>
<div class="sw" style="top:21px"><i style="background:#afd8f8"></i></div>
<div class="sw" style="top:39px"><i style="background:#cb4b4b"></i></div>
<div class="sw" style="top:57px"><i style="background:#4da74d"></i></div>
<div class="sw" style="top:75px"><i style="background:#9440ed"></i></div>
<div class="sw" style="top:93px"><i style="background:#bd9b33"></i></div>
<div class="sw" style="top:111px"><i style="background:#8cacc6"></i></div>
<div class="sw" style="top:129px"><i style="background:#a23c3c"></i></div>
<div class="sw" style="top:147px"><i style="background:#3d853d"></i></div>
<div class="sw" style="top:165px"><i style="background:#7633bd"></i></div>
<div class="sw" style="top:183px"><i style="background:#ffe84c"></i></div>
<div class="sw" style="top:201px"><i style="background:#d2ffff"></i></div>
</div>

<div id="tip"></div>

<div class="btn" style="left:1028px"></div>
<div class="btn" style="left:1109px"></div>
<div class="btn" style="left:1190px"></div>
<div class="btn" style="left:1271px"></div>

<div id="ok"></div>
<svg style="position:absolute;left:1273px;top:557px" width="18" height="18" viewBox="0 0 18 18">
<circle cx="9" cy="8.6" r="7.4" fill="#8fc60a" stroke="#79aa12" stroke-width="0.8"/>
<path d="M5.3 8.9 L7.9 11.3 L12.4 6.3" fill="none" stroke="#fff" stroke-width="2" stroke-linecap="round" stroke-linejoin="round"/>
</svg>

<div id="taskbar"></div>
<div id="freeframe"></div>
<div id="free"></div>
<svg style="position:absolute;left:14px;top:594px" width="62" height="30" viewBox="0 0 62 30">
<defs><linearGradient id="fg" x1="0" y1="0" x2="0" y2="1"><stop offset="0" stop-color="#ffffff"/><stop offset="0.55" stop-color="#f4f0f0"/><stop offset="1" stop-color="#c9c2c2"/></linearGradient></defs>
<text x="4.6" y="20.1" font-family="Liberation Serif, serif" font-style="italic" font-size="21.5" fill="url(#fg)" stroke="#f0eaea" stroke-width="0.25" textLength="49.5" lengthAdjust="spacingAndGlyphs">free</text>
</svg>
<div id="task"></div>
<svg style="position:absolute;left:118px;top:598px" width="24" height="25" viewBox="0 0 24 25">
<defs><linearGradient id="ig" x1="0" y1="0" x2="1" y2="1"><stop offset="0" stop-color="#4db04d"/><stop offset="0.5" stop-color="#0f900f"/><stop offset="1" stop-color="#2fa02f"/></linearGradient>
<linearGradient id="ifr" x1="0" y1="0" x2="0" y2="1"><stop offset="0" stop-color="#b4b4b4"/><stop offset="1" stop-color="#8a8a8a"/></linearGradient></defs>
<rect x="0" y="0" width="24" height="24.3" rx="1" fill="url(#ifr)"/>
<rect x="1.9" y="1.8" width="20.4" height="20.5" fill="url(#ig)"/>
<path d="M2.5 13.6 L5 13.6 L7.2 10.3 L10.9 18.1 L13.2 3.4 L16.1 14 L17.5 13.6 L22 13.6" fill="none" stroke="#9dff9d" stroke-width="1.1" stroke-linejoin="round"/>
</svg>


<!-- tray icons -->
<svg style="position:absolute;left:1138px;top:594px" width="32" height="30" viewBox="0 0 32 30">
<g fill="none" stroke="#0d9bff" stroke-linecap="butt">
<path d="M2.4 9.6 A22.6 22.6 0 0 1 29.6 9.6" stroke-width="3.3"/>
<path d="M6.6 14.7 A16.7 16.7 0 0 1 25.4 14.7" stroke-width="3.1"/>
<path d="M10.4 20 A9 9 0 0 1 21.6 20" stroke-width="2.9"/>
</g>
<circle cx="16" cy="25" r="2.6" fill="#0d9bff"/>
</svg>
<svg style="position:absolute;left:1183px;top:594px" width="32" height="28" viewBox="0 0 32 28">
<path d="M2.3 9.3 L13 9.3 L13 16 L10.8 16.4 L12.6 25.2 L6 25.2 L6.3 16 L2.3 16 Z" fill="#595959"/>
<path d="M1.2 14.2 L3 14.2" stroke="#5f5f5f" stroke-width="1.2"/>
<path d="M13 10 Q20 8 26.3 2.6 L26.3 22.3 Q20 17.6 13 16 Z" fill="#474747" stroke="#686868" stroke-width="1"/>
<path d="M26.8 2.2 L26.8 22.8" stroke="#6a6a6a" stroke-width="1.5"/>
<path d="M28.1 8 L28.1 12.5" stroke="#606060" stroke-width="1"/>
</svg>
<svg style="position:absolute;left:1221px;top:600px" width="36" height="20" viewBox="0 0 36 20">
<g fill="#0d9bff" stroke="#0d9bff">
<circle cx="4.5" cy="10.2" r="3.3" stroke="none"/>
<path d="M4.5 10.2 L27 10.2" stroke-width="2.3" fill="none"/>
<path d="M26 6.8 L33.2 10.2 L26 13.6 Z" stroke="none"/>
<path d="M9.5 10.2 C13.5 10.2 13.5 4.9 17.5 4.9 L19.5 4.9" stroke-width="2.3" fill="none"/>
<circle cx="20.4" cy="4.7" r="2.6" stroke="none"/>
<path d="M13.5 10.4 C16.5 10.4 17 15.5 20 15.5 L21 15.5" stroke-width="2.3" fill="none"/>
<rect x="20.3" y="13.2" width="4.8" height="4.8" stroke="none"/>
</g>
</svg>
<div id="clock">17:07</div>
<span id="t_title" class="ft" style="left:17.70px;top:5.94px;font-size:12px;color:#fff;font-weight:bold;transform:scaleX(1.1395);">État de la Freebox</span>
<span id="t_tab0" class="ft" style="left:7.20px;top:28.81px;font-size:10.5px;color:#cdcdcd;font-weight:bold;transform:scaleX(1.0822);">Diagnostic</span>
<span id="t_tab1" class="ft" style="left:86.20px;top:28.81px;font-size:10.5px;color:#cdcdcd;font-weight:bold;transform:scaleX(1.1736);">État Internet</span>
<span id="t_tab2" class="ft" style="left:179.10px;top:28.81px;font-size:10.5px;color:#cdcdcd;font-weight:bold;transform:scaleX(1.0934);">Modules d'extension</span>
<span id="t_tab3" class="ft" style="left:312.90px;top:28.81px;font-size:10.5px;color:#cdcdcd;font-weight:bold;transform:scaleX(1.0904);">Courbes de Débit</span>
<span id="t_tab4" class="ft" style="left:427.90px;top:28.81px;font-size:10.5px;color:#cdcdcd;font-weight:bold;transform:scaleX(1.1017);">Historique</span>
<span id="t_tab5" class="ft" style="left:506.30px;top:28.81px;font-size:10.5px;color:#fff;font-weight:bold;transform:scaleX(1.1015);">Courbes de température</span>
<span id="t_leg0" class="ft" style="left:84.70px;top:275.93px;font-size:9.3px;color:#545454;font-weight:bold;transform:scaleX(1.1863);">Ventilateur 2</span>
<span id="t_leg1" class="ft" style="left:84.70px;top:293.93px;font-size:9.3px;color:#545454;font-weight:bold;transform:scaleX(1.1755);">Ventilateur 1</span>
<span id="t_leg2" class="ft" style="left:84.70px;top:311.93px;font-size:9.3px;color:#545454;font-weight:bold;transform:scaleX(1.1212);">Température CPU CP Slave</span>
<span id="t_leg3" class="ft" style="left:84.70px;top:329.93px;font-size:9.3px;color:#545454;font-weight:bold;transform:scaleX(1.1318);">Température CPU CP Master</span>
<span id="t_leg4" class="ft" style="left:84.70px;top:347.93px;font-size:9.3px;color:#545454;font-weight:bold;transform:scaleX(1.1258);">Température CPU AP</span>
<span id="t_leg5" class="ft" style="left:84.70px;top:365.93px;font-size:9.3px;color:#545454;font-weight:bold;transform:scaleX(1.1753);">Température 3</span>
<span id="t_leg6" class="ft" style="left:84.70px;top:383.93px;font-size:9.3px;color:#545454;font-weight:bold;transform:scaleX(1.1753);">Température 2</span>
<span id="t_leg7" class="ft" style="left:84.70px;top:401.93px;font-size:9.3px;color:#545454;font-weight:bold;transform:scaleX(1.1721);">Température 1</span>
<span id="t_leg8" class="ft" style="left:84.70px;top:419.93px;font-size:9.3px;color:#545454;font-weight:bold;transform:scaleX(1.1347);">Disque dur 4</span>
<span id="t_leg9" class="ft" style="left:84.70px;top:437.93px;font-size:9.3px;color:#545454;font-weight:bold;transform:scaleX(1.1347);">Disque dur 3</span>
<span id="t_leg10" class="ft" style="left:84.70px;top:455.93px;font-size:9.3px;color:#545454;font-weight:bold;transform:scaleX(1.1347);">Disque dur 2</span>
<span id="t_leg11" class="ft" style="left:84.70px;top:473.93px;font-size:9.3px;color:#545454;font-weight:bold;transform:scaleX(1.1241);">Disque dur 1</span>
<span id="t_x0" class="ft" style="left:90.65px;top:504.07px;font-size:9.6px;color:#545454;transform:scaleX(1.0118);">18:00</span>
<span id="t_x1" class="ft" style="left:191.60px;top:504.07px;font-size:9.6px;color:#545454;transform:scaleX(1.0118);">20:00</span>
<span id="t_x2" class="ft" style="left:292.55px;top:504.07px;font-size:9.6px;color:#545454;transform:scaleX(1.0118);">22:00</span>
<span id="t_x3" class="ft" style="left:393.50px;top:504.07px;font-size:9.6px;color:#545454;transform:scaleX(1.0118);">00:00</span>
<span id="t_x4" class="ft" style="left:494.45px;top:504.07px;font-size:9.6px;color:#545454;transform:scaleX(1.0118);">02:00</span>
<span id="t_x5" class="ft" style="left:595.40px;top:504.07px;font-size:9.6px;color:#545454;transform:scaleX(1.0118);">04:00</span>
<span id="t_x6" class="ft" style="left:696.35px;top:504.07px;font-size:9.6px;color:#545454;transform:scaleX(1.0118);">06:00</span>
<span id="t_x7" class="ft" style="left:797.30px;top:504.07px;font-size:9.6px;color:#545454;transform:scaleX(1.0118);">08:00</span>
<span id="t_x8" class="ft" style="left:898.25px;top:504.07px;font-size:9.6px;color:#545454;transform:scaleX(1.0118);">10:00</span>
<span id="t_x9" class="ft" style="left:999.20px;top:504.07px;font-size:9.6px;color:#545454;transform:scaleX(1.0118);">12:00</span>
<span id="t_x10" class="ft" style="left:1100.15px;top:504.07px;font-size:9.6px;color:#545454;transform:scaleX(1.0118);">14:00</span>
<span id="t_x11" class="ft" style="left:1201.10px;top:504.07px;font-size:9.6px;color:#545454;transform:scaleX(1.0118);">16:00</span>
<span id="t_y0" class="ft" style="left:30.61px;top:487.77px;font-size:9.6px;color:#545454;transform:scaleX(0.9953);">0 °C</span>
<span id="t_y1" class="ft" style="left:25.30px;top:415.60px;font-size:9.6px;color:#545454;transform:scaleX(0.9953);">20 °C</span>
<span id="t_y2" class="ft" style="left:25.30px;top:343.43px;font-size:9.6px;color:#545454;transform:scaleX(0.9953);">40 °C</span>
<span id="t_y3" class="ft" style="left:25.30px;top:271.26px;font-size:9.6px;color:#545454;transform:scaleX(0.9953);">60 °C</span>
<span id="t_y4" class="ft" style="left:25.30px;top:199.09px;font-size:9.6px;color:#545454;transform:scaleX(0.9953);">80 °C</span>
<span id="t_y5" class="ft" style="left:20.00px;top:126.92px;font-size:9.6px;color:#545454;transform:scaleX(0.9953);">100 °C</span>
<span id="t_y6" class="ft" style="left:20.00px;top:54.75px;font-size:9.6px;color:#545454;transform:scaleX(0.9953);">120 °C</span>
<span id="t_r0" class="ft" style="left:1285.30px;top:488.07px;font-size:9.6px;color:#545454;transform:scaleX(0.9773);">0 RPM</span>
<span id="t_r1" class="ft" style="left:1285.30px;top:444.77px;font-size:9.6px;color:#545454;transform:scaleX(0.9773);">500 RPM</span>
<span id="t_r2" class="ft" style="left:1285.30px;top:401.47px;font-size:9.6px;color:#545454;transform:scaleX(0.9773);">1000 RPM</span>
<span id="t_r3" class="ft" style="left:1285.30px;top:358.17px;font-size:9.6px;color:#545454;transform:scaleX(0.9773);">1500 RPM</span>
<span id="t_r4" class="ft" style="left:1285.30px;top:314.87px;font-size:9.6px;color:#545454;transform:scaleX(0.9773);">2000 RPM</span>
<span id="t_r5" class="ft" style="left:1285.30px;top:271.57px;font-size:9.6px;color:#545454;transform:scaleX(0.9773);">2500 RPM</span>
<span id="t_r6" class="ft" style="left:1285.30px;top:228.27px;font-size:9.6px;color:#545454;transform:scaleX(0.9773);">3000 RPM</span>
<span id="t_r7" class="ft" style="left:1285.30px;top:184.97px;font-size:9.6px;color:#545454;transform:scaleX(0.9773);">3500 RPM</span>
<span id="t_r8" class="ft" style="left:1285.30px;top:141.67px;font-size:9.6px;color:#545454;transform:scaleX(0.9773);">4000 RPM</span>
<span id="t_r9" class="ft" style="left:1285.30px;top:98.37px;font-size:9.6px;color:#545454;transform:scaleX(0.9773);">4500 RPM</span>
<span id="t_r10" class="ft" style="left:1285.30px;top:55.07px;font-size:9.6px;color:#545454;transform:scaleX(0.9773);">5000 RPM</span>
<span id="t_tip" class="ft" style="left:533.00px;top:334.97px;font-size:11.5px;color:#222;transform:scaleX(1.1672);">Disque dur 4: 37 °C</span>
<span id="t_btn0" class="ft" style="left:1051.35px;top:531.69px;font-size:11px;color:#222;transform:scaleX(0.9643);">Heure</span>
<span id="t_btn1" class="ft" style="left:1136.18px;top:531.69px;font-size:11px;color:#222;transform:scaleX(0.9643);">Jour</span>
<span id="t_btn2" class="ft" style="left:1206.56px;top:531.69px;font-size:11px;color:#222;transform:scaleX(0.9643);">Semaine</span>
<span id="t_btn3" class="ft" style="left:1297.30px;top:531.69px;font-size:11px;color:#222;transform:scaleX(0.9643);">Mois</span>
<span id="t_ok" class="ft" style="left:1309.80px;top:560.69px;font-size:11px;color:#222;transform:scaleX(0.9053);">OK</span>
<span id="t_task" class="ft" style="left:176.70px;top:604.38px;font-size:11.6px;color:#fff;font-weight:bold;transform:scaleX(0.9982);">État de la Freebox</span>
</body>
</html>
